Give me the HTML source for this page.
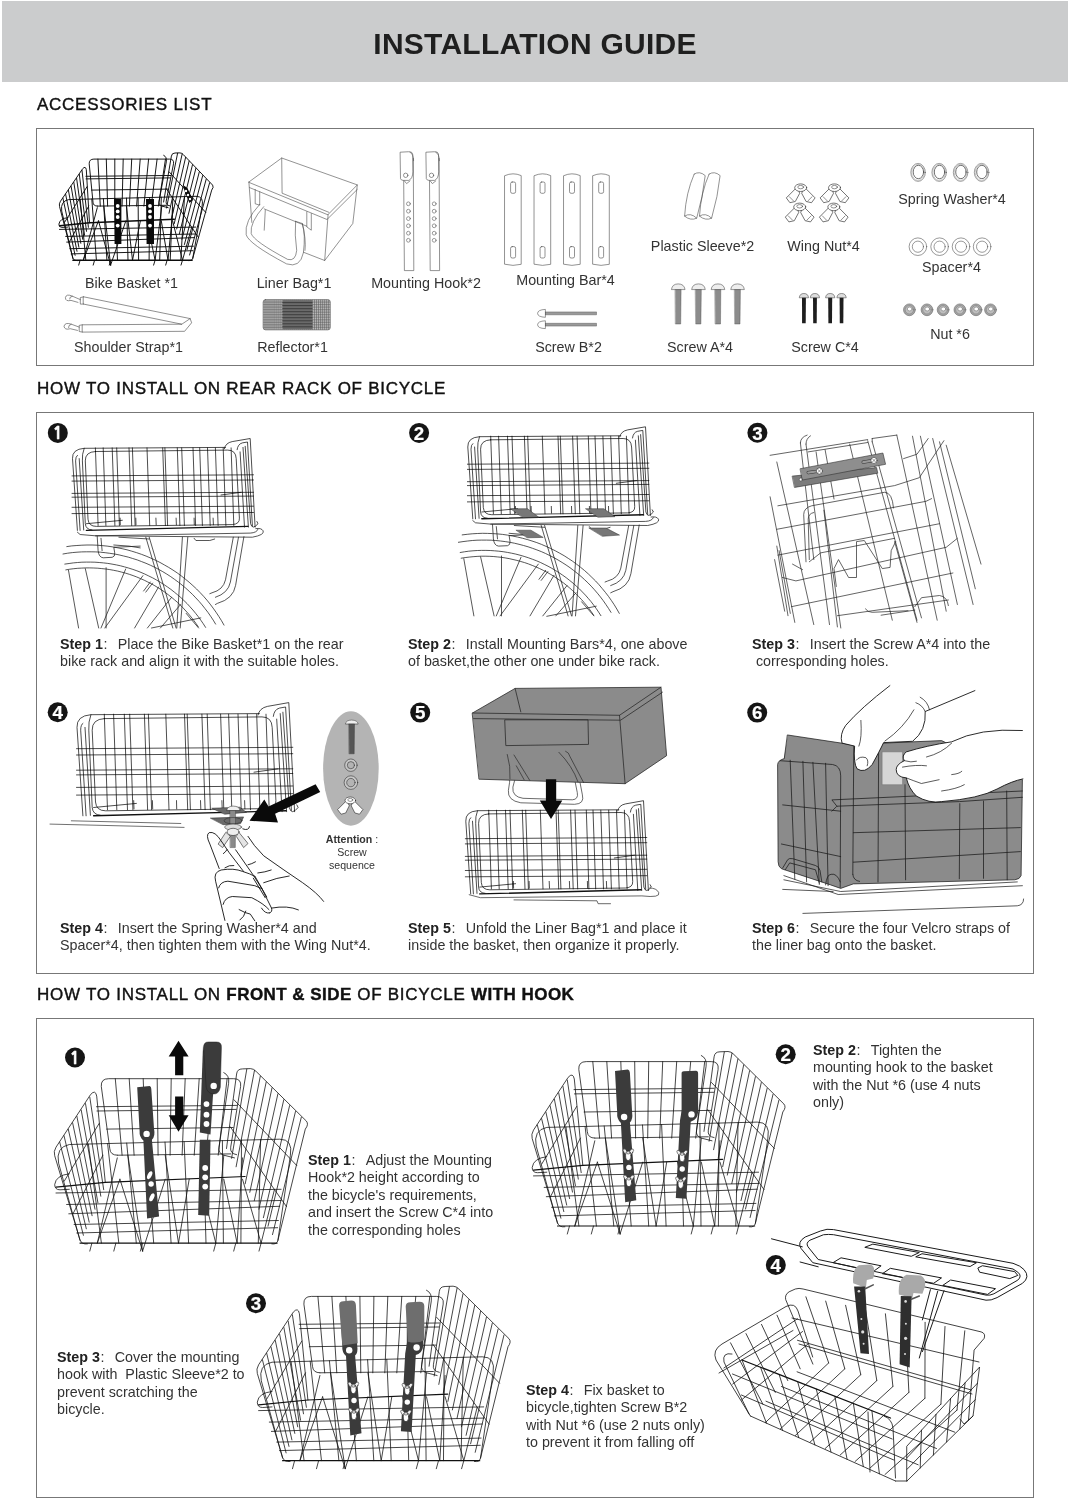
<!DOCTYPE html><html><head><meta charset="utf-8"><title>Installation Guide</title><style>
html,body{margin:0;padding:0;background:#fff;}
#pg{will-change:transform;position:relative;width:1070px;height:1500px;overflow:hidden;background:#fff;font-family:"Liberation Sans",Arial,sans-serif;color:#2e2e2e;}
#hdr{position:absolute;left:2px;top:1px;width:1066px;height:81px;background:#cbcccd;}
#ttl{position:absolute;left:0;top:24px;width:1070px;text-align:center;font-weight:bold;font-size:30px;line-height:40px;color:#1f1f1f;letter-spacing:0.25px;}
.h{position:absolute;left:37px;font-size:17px;line-height:20px;letter-spacing:0.74px;color:#111;white-space:nowrap;-webkit-text-stroke:0.4px #111;}
.h b{font-weight:bold;letter-spacing:0.45px;}
.bx{position:absolute;left:36px;width:996px;border:1.3px solid #777;box-sizing:content-box;}
.l{position:absolute;font-size:14.3px;line-height:18px;white-space:nowrap;color:#333;transform:translateX(-50%);}
.c{position:absolute;font-size:14.3px;line-height:17.4px;white-space:nowrap;color:#333;}
.c b{color:#222;}
.c i{font-style:normal;display:inline-block;width:14.8px;padding-left:0.6px;box-sizing:border-box;}
.att{position:absolute;font-size:10.6px;line-height:13.2px;text-align:center;color:#333;white-space:nowrap;}
svg{position:absolute;left:0;top:0;}
</style></head><body><div id="pg">
<div id="hdr"></div><div id="ttl">INSTALLATION GUIDE</div>
<div class="h" style="top:94.9px">ACCESSORIES LIST</div>
<div class="h" style="top:378.9px">HOW TO INSTALL ON REAR RACK OF BICYCLE</div>
<div class="h" style="top:984.9px">HOW TO INSTALL ON <b>FRONT &amp; SIDE</b> OF BICYCLE <b>WITH HOOK</b></div>
<div class="bx" style="top:128px;height:235.6px"></div>
<div class="bx" style="top:412px;height:559.5px"></div>
<div class="bx" style="top:1017.5px;height:478.5px"></div>
<div class="l" style="left:131.5px;top:274px">Bike Basket *1</div>
<div class="l" style="left:294px;top:274px">Liner Bag*1</div>
<div class="l" style="left:426px;top:274px">Mounting Hook*2</div>
<div class="l" style="left:565.5px;top:271px">Mounting Bar*4</div>
<div class="l" style="left:702.5px;top:237px">Plastic Sleeve*2</div>
<div class="l" style="left:823.5px;top:237px">Wing Nut*4</div>
<div class="l" style="left:952px;top:190px">Spring Washer*4</div>
<div class="l" style="left:951.5px;top:258px">Spacer*4</div>
<div class="l" style="left:128.5px;top:338px">Shoulder Strap*1</div>
<div class="l" style="left:292.5px;top:338px">Reflector*1</div>
<div class="l" style="left:568.5px;top:338px">Screw B*2</div>
<div class="l" style="left:700px;top:338px">Screw A*4</div>
<div class="l" style="left:825px;top:338px">Screw C*4</div>
<div class="l" style="left:950px;top:325px">Nut *6</div>
<div class="c" style="left:60px;top:636px;"><b>Step 1</b><i>:</i>Place the Bike Basket*1 on the rear<br>bike rack and align it with the suitable holes.</div>
<div class="c" style="left:408px;top:636px;"><b>Step 2</b><i>:</i>Install Mounting Bars*4, one above<br>of basket,the other one under bike rack.</div>
<div class="c" style="left:752px;top:636px;"><b>Step 3</b><i>:</i>Insert the Screw A*4 into the<br>&nbsp;corresponding holes.</div>
<div class="c" style="left:60px;top:920px;"><b>Step 4</b><i>:</i>Insert the Spring Washer*4 and<br>Spacer*4, then tighten them with the Wing Nut*4.</div>
<div class="c" style="left:408px;top:920px;"><b>Step 5</b><i>:</i>Unfold the Liner Bag*1 and place it<br>inside the basket, then organize it properly.</div>
<div class="c" style="left:752px;top:920px;"><b>Step 6</b><i>:</i>Secure the four Velcro straps of<br>the liner bag onto the basket.</div>
<div class="att" style="left:312px;top:832.5px;width:80px"><b>Attention</b> :<br>Screw<br>sequence</div>
<div class="c" style="left:308px;top:1152px;"><b>Step 1</b><i>:</i>Adjust the Mounting<br>Hook*2 height according to<br>the bicycle's requirements,<br>and insert the Screw C*4 into<br>the corresponding holes</div>
<div class="c" style="left:813px;top:1042px;"><b>Step 2</b><i>:</i>Tighten the<br>mounting hook to the basket<br>with the Nut *6 (use 4 nuts<br>only)</div>
<div class="c" style="left:57px;top:1349px;"><b>Step 3</b><i>:</i>Cover the mounting<br>hook with &nbsp;Plastic Sleeve*2 to<br>prevent scratching the<br>bicycle.</div>
<div class="c" style="left:526px;top:1382px;"><b>Step 4</b><i>:</i>Fix basket to<br>bicycle,tighten Screw B*2<br>with Nut *6 (use 2 nuts only)<br>to prevent it from falling off</div>
<svg width="1070" height="1500" viewBox="0 0 1070 1500" fill="none" stroke-linecap="round" stroke-linejoin="round">
<g id="10_acc"><path d="M97.4,206.1 Q93.2,206.1 93,202.2 L89.2,163.8 Q89.1,159.1 93.9,159.1 L169.5,159.1 Q174.3,159.1 173.5,163.8 L166.2,201.2 Q165.4,205.1 169.6,205.8 M97.9,159.1 L100.3,206.1 M106.3,159.1 L107.6,206.1 M114.8,159.1 L114.8,206.1 M123.2,159.1 L122.1,206.1 M131.7,159.1 L129.4,206.1 M140.2,159.1 L136.6,206.1 M148.6,159.1 L143.9,206.1 M157.1,159.1 L151.2,206.1 M165.5,159.1 L158.4,206.1 M85.9,176.3 L170.7,175.5 M86.1,178.9 L170.3,177.9 M91.5,190.1 L168.1,189.1 M97.4,206.1 L166.1,205.3 M72.9,258.5 L61.7,211 Q60.2,201.2 68.6,199.6 L196,196.3 Q204.1,196.3 202.1,206.1 L192.7,258.5 M80.2,199.3 L85.8,260.2 M91.8,199 L96.4,260.2 M103.4,198.7 L106.9,260.2 M114.9,198.4 L117.5,260.2 M126.5,198.1 L128,260.2 M138.1,197.8 L138.6,260.2 M149.7,197.5 L149.1,260.2 M161.3,197.2 L159.7,260.2 M172.9,196.9 L170.2,260.2 M184.5,196.6 L180.8,260.2 M89.5,222.8 L86.3,169.7 Q85.6,165.5 82.6,168.8 L60.5,201.2 Q58.8,203.8 59.5,206.4 L72.9,258.2 Q73.8,261.2 77.4,260.7 M62.9,198.1 L75.1,255.3 M65.6,194.1 L77,251.3 M68.4,190.2 L78.9,247.3 M71.1,186.2 L80.8,243.3 M73.8,182.3 L82.7,239.3 M76.6,178.3 L84.6,235.3 M79.3,174.4 L86.5,231.3 M82,170.4 L88.4,227.3 M64.7,222.1 L87.1,186.6 M69.3,242.1 L88.7,206.1 M163.6,202 L171.4,156.1 Q171.8,153 175,153 L179.9,152.9 Q181.8,152.9 183.4,154.7 L212.6,185.1 Q214.1,187.1 211.7,190.1 L192.7,258.5 Q192.1,261.2 188.9,260.7 M177.6,153.2 L166.5,208 M182.2,153.8 L169,213.3 M185.6,157.4 L171.6,218.5 M189.1,161.1 L174.2,223.7 M192.5,164.7 L176.7,228.9 M195.9,168.3 L179.3,234.1 M199.3,171.9 L181.9,239.3 M202.7,175.6 L184.4,244.5 M206.2,179.2 L187,249.7 M209.6,182.8 L189.6,255 M169.2,171.9 L205.8,212.5 M166.3,188.6 L198.6,237.7 M163.7,155.3 Q167.2,157 166.3,161.9 L159.1,201.2 Q158.3,204.8 161.8,206.1 L168.2,207.7 M59.5,229.4 L195.7,227.1 M66.7,242.1 L194.6,237.6 M65.7,236.4 L195.5,234 M71.2,253.9 L192.8,250.7 M69.7,248.7 L193.4,246.2 M83.3,260.2 L97.3,207.7 M83.3,260.2 L98.5,220.8 M110.6,265.1 L98.5,220.8 M110.6,265.1 L103.8,206.1 M110.6,265.1 L125.9,220.8 M132.5,260.2 L126.4,206.1 M132.5,260.2 L140.4,220.8 M155.1,260.2 L146.8,220.8 M155.1,260.2 L161.8,206.1 M168,260.2 L161.3,220.8 M168,260.2 L173.1,207.7 M182.5,260.2 L172.6,220.8 M182.5,260.2 L191.7,227.4 M80.1,260.2 L78.7,265.1 M94.6,260.2 L93.2,265.1 M110.7,260.2 L109.3,265.1 M155.1,260.2 L153.6,265.1 M167.1,260.2 L165.7,265.1 M182.5,260.2 L181,265.1" stroke="#0c0c0c" stroke-width="0.95"/><path d="M72.9,260.2 L192.1,260.2 M89.5,222.8 L174.3,219.2 M59.6,225.8 L89.5,222.8" stroke="#0c0c0c" stroke-width="1.5"/><path d="M68,217.6 Q59.9,218.4 58.9,224.1 Q58.7,227.4 62,227.4 L67.6,227.1" stroke="#0c0c0c" stroke-width="0.95"/><path d="M114,199 L121.4,199 L121.4,244 L114.6,244Z" fill="#0a0a0a"/><circle cx="117.7" cy="206" r="1.9" fill="#fff"/><circle cx="117.7" cy="211.4" r="1.9" fill="#fff"/><circle cx="117.7" cy="217" r="1.9" fill="#fff"/><circle cx="117.7" cy="225.6" r="1.9" fill="#fff"/><path d="M146,199 L154,199 L154,244 L146.6,244Z" fill="#0a0a0a"/><circle cx="150" cy="206" r="1.9" fill="#fff"/><circle cx="150" cy="211.4" r="1.9" fill="#fff"/><circle cx="150" cy="217" r="1.9" fill="#fff"/><circle cx="150" cy="225.6" r="1.9" fill="#fff"/><path d="M183,185 L187.4,188 L193,200 L189.4,203 L185,192.4Z" fill="#0a0a0a"/><circle cx="186" cy="191" r="1.2" fill="#fff"/><circle cx="188" cy="195" r="1.2" fill="#fff"/><circle cx="190" cy="199" r="1.2" fill="#fff"/><path d="M248.9,182 L281.7,158 L357.3,184.9 L328.1,214.5Z M249.6,187.6 L327,219.5 L357.3,189.4 M248.9,182 L251.8,222.4 M328.1,214.5 L324.7,260.5 L352.8,223.5 L357.3,184.9 M324.7,260.5 L303.4,252.2 M281.7,158 L282.1,193.2 L328.8,212.3 M255.2,189.4 L255.2,203.8 L259.7,205.1 L259.7,191.7 M306.8,211.8 L306.8,226.9 L311.3,230.2 L311.3,213.6 M264.2,208.9 L306.8,226.2 M265.3,210.1 L264.2,230.2 M259.7,204.4 Q244,221.3 246.2,234.7 Q248.5,243.7 286.6,263.9 Q300.1,268.4 303.4,252.7 Q305.7,234.7 302.3,223.5 L295.6,221.3 M263.7,206.7 Q249.6,222.4 251.2,233.6 Q254.1,241.5 287.7,259.4 Q295.6,261.6 296.7,250.4 Q294.4,234.7 295.6,221.3 M302.3,223.5 Q306.3,239.2 305,250.4" stroke="#4a4a4a" stroke-width="0.6"/><circle cx="405.7" cy="175.3" r="2.2" stroke="#4a4a4a" stroke-width="0.6" fill="none"/><circle cx="408.4" cy="203.8" r="1.9" stroke="#4a4a4a" stroke-width="0.55" fill="none"/><circle cx="408.4" cy="211.2" r="1.9" stroke="#4a4a4a" stroke-width="0.55" fill="none"/><circle cx="408.4" cy="218.6" r="1.9" stroke="#4a4a4a" stroke-width="0.55" fill="none"/><circle cx="408.4" cy="225.8" r="1.9" stroke="#4a4a4a" stroke-width="0.55" fill="none"/><circle cx="408.4" cy="233.2" r="1.9" stroke="#4a4a4a" stroke-width="0.55" fill="none"/><circle cx="408.4" cy="240.3" r="1.9" stroke="#4a4a4a" stroke-width="0.55" fill="none"/><circle cx="431.5" cy="175.3" r="2.2" stroke="#4a4a4a" stroke-width="0.6" fill="none"/><circle cx="434.2" cy="203.8" r="1.9" stroke="#4a4a4a" stroke-width="0.55" fill="none"/><circle cx="434.2" cy="211.2" r="1.9" stroke="#4a4a4a" stroke-width="0.55" fill="none"/><circle cx="434.2" cy="218.6" r="1.9" stroke="#4a4a4a" stroke-width="0.55" fill="none"/><circle cx="434.2" cy="225.8" r="1.9" stroke="#4a4a4a" stroke-width="0.55" fill="none"/><circle cx="434.2" cy="233.2" r="1.9" stroke="#4a4a4a" stroke-width="0.55" fill="none"/><circle cx="434.2" cy="240.3" r="1.9" stroke="#4a4a4a" stroke-width="0.55" fill="none"/><path d="M403.7,180.9 L404.4,270.6 L413.8,270.6 L413.3,158.5 M400.1,152.6 L400.5,178.6 Q401,180.4 403.2,180.4 L408.8,180.4 Q412.7,178.6 412.9,171.9 L412.7,154 Q412.2,151.3 408.8,151.7 Z M410,152.2 Q413.6,154 413.6,160.7 M404.4,180.9 L406.6,183.6 L410,180.9 M429.5,180.9 L430.2,270.6 L439.6,270.6 L439.1,158.5 M425.9,152.6 L426.3,178.6 Q426.8,180.4 429,180.4 L434.6,180.4 Q438.5,178.6 438.7,171.9 L438.5,154 Q438,151.3 434.6,151.7 Z M435.8,152.2 Q439.4,154 439.4,160.7 M430.2,180.9 L432.4,183.6 L435.8,180.9" stroke="#4a4a4a" stroke-width="0.6"/><path d="M504.9,175.6 Q513.1,172 521.2,175.6 L521.2,264.3 Q513.1,266.5 504.9,264.3 Z M512.2,182 H514 Q515.6,182 515.6,183.6 V191.7 Q515.6,193.3 514,193.3 H512.2 Q510.6,193.3 510.6,191.7 V183.6 Q510.6,182 512.2,182Z M512.2,246.6 H514 Q515.6,246.6 515.6,248.2 V256.4 Q515.6,258 514,258 H512.2 Q510.6,258 510.6,256.4 V248.2 Q510.6,246.6 512.2,246.6Z M534.4,175.6 Q542.6,172 550.7,175.6 L550.7,264.3 Q542.6,266.5 534.4,264.3 Z M541.7,182 H543.4 Q545,182 545,183.6 V191.7 Q545,193.3 543.4,193.3 H541.7 Q540.1,193.3 540.1,191.7 V183.6 Q540.1,182 541.7,182Z M541.7,246.6 H543.4 Q545,246.6 545,248.2 V256.4 Q545,258 543.4,258 H541.7 Q540.1,258 540.1,256.4 V248.2 Q540.1,246.6 541.7,246.6Z M563.9,175.6 Q572,172 580.2,175.6 L580.2,264.3 Q572,266.5 563.9,264.3 Z M571.1,182 H572.9 Q574.5,182 574.5,183.6 V191.7 Q574.5,193.3 572.9,193.3 H571.1 Q569.5,193.3 569.5,191.7 V183.6 Q569.5,182 571.1,182Z M571.1,246.6 H572.9 Q574.5,246.6 574.5,248.2 V256.4 Q574.5,258 572.9,258 H571.1 Q569.5,258 569.5,256.4 V248.2 Q569.5,246.6 571.1,246.6Z M593,175.6 Q601.2,172 609.3,175.6 L609.3,264.3 Q601.2,266.5 593,264.3 Z M600.3,182 H602 Q603.6,182 603.6,183.6 V191.7 Q603.6,193.3 602,193.3 H600.3 Q598.7,193.3 598.7,191.7 V183.6 Q598.7,182 600.3,182Z M600.3,246.6 H602 Q603.6,246.6 603.6,248.2 V256.4 Q603.6,258 602,258 H600.3 Q598.7,258 598.7,256.4 V248.2 Q598.7,246.6 600.3,246.6Z M694.2,174.1 Q699.5,170.6 705.2,175.6 Q703.1,196.2 696.7,218.2 Q690.6,221 684.6,216.1 Q686,192.6 694.2,174.1 M684.6,216.1 Q690.6,212.1 696.7,218.2 M709.1,174.1 Q714.4,170.6 720.1,175.6 Q718,196.2 711.6,218.2 Q705.6,221 699.5,216.1 Q700.9,192.6 709.1,174.1 M699.5,216.1 Q705.6,212.1 711.6,218.2" stroke="#4a4a4a" stroke-width="0.6"/><path d="M797.1,187.1 L786.3,197.9 L789.9,202.7 L795.3,201.5 L799.5,193.7Z" stroke="#3a3a3a" stroke-width="0.7" fill="#fff"/><path d="M804.3,187.1 L815.1,197.9 L811.5,202.7 L806.1,201.5 L801.9,193.7Z" stroke="#3a3a3a" stroke-width="0.7" fill="#fff"/><path d="M789.3,196.7 L793.5,200.9 M812.1,196.7 L807.9,200.9" stroke="#3a3a3a" stroke-width="0.5599999999999999"/><ellipse cx="800.7" cy="187.7" rx="6" ry="3.8" stroke="#3a3a3a" stroke-width="0.7" fill="#fff"/><ellipse cx="800.7" cy="187.1" rx="2.9" ry="1.7" stroke="#3a3a3a" stroke-width="0.5599999999999999" fill="#fff"/><path d="M830.9,187.1 L820.1,197.9 L823.7,202.7 L829.1,201.5 L833.3,193.7Z" stroke="#3a3a3a" stroke-width="0.7" fill="#fff"/><path d="M838.1,187.1 L848.9,197.9 L845.3,202.7 L839.9,201.5 L835.7,193.7Z" stroke="#3a3a3a" stroke-width="0.7" fill="#fff"/><path d="M823.1,196.7 L827.3,200.9 M845.9,196.7 L841.7,200.9" stroke="#3a3a3a" stroke-width="0.5599999999999999"/><ellipse cx="834.5" cy="187.7" rx="6" ry="3.8" stroke="#3a3a3a" stroke-width="0.7" fill="#fff"/><ellipse cx="834.5" cy="187.1" rx="2.9" ry="1.7" stroke="#3a3a3a" stroke-width="0.5599999999999999" fill="#fff"/><path d="M796.1,206.3 L785.3,217.1 L788.9,221.9 L794.3,220.7 L798.5,212.9Z" stroke="#3a3a3a" stroke-width="0.7" fill="#fff"/><path d="M803.3,206.3 L814.1,217.1 L810.5,221.9 L805.1,220.7 L800.9,212.9Z" stroke="#3a3a3a" stroke-width="0.7" fill="#fff"/><path d="M788.3,215.9 L792.5,220.1 M811.1,215.9 L806.9,220.1" stroke="#3a3a3a" stroke-width="0.5599999999999999"/><ellipse cx="799.7" cy="206.9" rx="6" ry="3.8" stroke="#3a3a3a" stroke-width="0.7" fill="#fff"/><ellipse cx="799.7" cy="206.3" rx="2.9" ry="1.7" stroke="#3a3a3a" stroke-width="0.5599999999999999" fill="#fff"/><path d="M830.1,206.3 L819.4,217.1 L823,221.9 L828.4,220.7 L832.5,212.9Z" stroke="#3a3a3a" stroke-width="0.7" fill="#fff"/><path d="M837.4,206.3 L848.1,217.1 L844.5,221.9 L839.1,220.7 L835,212.9Z" stroke="#3a3a3a" stroke-width="0.7" fill="#fff"/><path d="M822.4,215.9 L826.5,220.1 M845.1,215.9 L841,220.1" stroke="#3a3a3a" stroke-width="0.5599999999999999"/><ellipse cx="833.8" cy="206.9" rx="6" ry="3.8" stroke="#3a3a3a" stroke-width="0.7" fill="#fff"/><ellipse cx="833.8" cy="206.3" rx="2.9" ry="1.7" stroke="#3a3a3a" stroke-width="0.5599999999999999" fill="#fff"/><path d="M545,311.9 L596.5,311.9 L596.5,314.8 L545,314.8Z" stroke="#444" stroke-width="0.4" fill="#9a9a9a"/><path d="M545,309.4 Q537.6,309.8 537.6,313.4 Q537.6,316.9 545,317.3 Z" stroke="#444" stroke-width="0.55" fill="#fff"/><path d="M545,323.3 L596.5,323.3 L596.5,326.1 L545,326.1Z" stroke="#444" stroke-width="0.4" fill="#9a9a9a"/><path d="M545,320.8 Q537.6,321.2 537.6,324.7 Q537.6,328.3 545,328.6 Z" stroke="#444" stroke-width="0.55" fill="#fff"/><path d="M675.4,289.2 L681.1,289.2 L680.7,324 L675.7,324Z" stroke="#444" stroke-width="0.4" fill="#8c8c8c"/><path d="M671.5,289.2 Q672.2,283.9 678.2,283.9 Q684.2,283.9 685,289.2 Z" stroke="#444" stroke-width="0.55" fill="#eee"/><path d="M695.6,289.2 L701.3,289.2 L700.9,324 L696,324Z" stroke="#444" stroke-width="0.4" fill="#8c8c8c"/><path d="M691.7,289.2 Q692.4,283.9 698.5,283.9 Q704.5,283.9 705.2,289.2 Z" stroke="#444" stroke-width="0.55" fill="#eee"/><path d="M715.1,289.2 L720.8,289.2 L720.5,324 L715.5,324Z" stroke="#444" stroke-width="0.4" fill="#8c8c8c"/><path d="M711.2,289.2 Q711.9,283.9 718,283.9 Q724,283.9 724.7,289.2 Z" stroke="#444" stroke-width="0.55" fill="#eee"/><path d="M734.7,289.2 L740.4,289.2 L740,324 L735,324Z" stroke="#444" stroke-width="0.4" fill="#8c8c8c"/><path d="M730.8,289.2 Q731.5,283.9 737.5,283.9 Q743.6,283.9 744.3,289.2 Z" stroke="#444" stroke-width="0.55" fill="#eee"/><path d="M802,297.4 L805.9,297.4 L805.7,323.3 L802.1,323.3Z" fill="#1e1e1e"/><path d="M799.3,297.4 Q799.7,293.5 803.9,293.5 Q808.2,293.5 808.5,297.4 Z" stroke="#333" stroke-width="0.5" fill="#ddd"/><path d="M813,297.4 L816.9,297.4 L816.7,323.3 L813.2,323.3Z" fill="#1e1e1e"/><path d="M810.3,297.4 Q810.7,293.5 814.9,293.5 Q819.2,293.5 819.5,297.4 Z" stroke="#333" stroke-width="0.5" fill="#ddd"/><path d="M828.2,297.4 L832.2,297.4 L832,323.3 L828.4,323.3Z" fill="#1e1e1e"/><path d="M825.6,297.4 Q825.9,293.5 830.2,293.5 Q834.5,293.5 834.8,297.4 Z" stroke="#333" stroke-width="0.5" fill="#ddd"/><path d="M839.6,297.4 L843.5,297.4 L843.3,323.3 L839.8,323.3Z" fill="#1e1e1e"/><path d="M836.9,297.4 Q837.3,293.5 841.6,293.5 Q845.8,293.5 846.2,297.4 Z" stroke="#333" stroke-width="0.5" fill="#ddd"/><ellipse cx="918.1" cy="172.4" rx="7.3" ry="9" stroke="#555" stroke-width="0.55" fill="none"/><ellipse cx="918.4" cy="172" rx="5.2" ry="6.7" stroke="#333" stroke-width="0.7" fill="none"/><ellipse cx="918.1" cy="172.4" rx="6.4" ry="8" stroke="#777" stroke-width="0.4" fill="none"/><ellipse cx="939.2" cy="172.4" rx="7.3" ry="9" stroke="#555" stroke-width="0.55" fill="none"/><ellipse cx="939.5" cy="172" rx="5.2" ry="6.7" stroke="#333" stroke-width="0.7" fill="none"/><ellipse cx="939.2" cy="172.4" rx="6.4" ry="8" stroke="#777" stroke-width="0.4" fill="none"/><ellipse cx="960.6" cy="172.4" rx="7.3" ry="9" stroke="#555" stroke-width="0.55" fill="none"/><ellipse cx="960.9" cy="172" rx="5.2" ry="6.7" stroke="#333" stroke-width="0.7" fill="none"/><ellipse cx="960.6" cy="172.4" rx="6.4" ry="8" stroke="#777" stroke-width="0.4" fill="none"/><ellipse cx="981.6" cy="172.4" rx="7.3" ry="9" stroke="#555" stroke-width="0.55" fill="none"/><ellipse cx="981.9" cy="172" rx="5.2" ry="6.7" stroke="#333" stroke-width="0.7" fill="none"/><ellipse cx="981.6" cy="172.4" rx="6.4" ry="8" stroke="#777" stroke-width="0.4" fill="none"/><circle cx="917.9" cy="246.7" r="8.8" stroke="#555" stroke-width="0.6" fill="none"/><circle cx="917.9" cy="246.7" r="5.6" stroke="#555" stroke-width="0.6" fill="none"/><circle cx="939.6" cy="246.7" r="8.8" stroke="#555" stroke-width="0.6" fill="none"/><circle cx="939.6" cy="246.7" r="5.6" stroke="#555" stroke-width="0.6" fill="none"/><circle cx="961" cy="246.7" r="8.8" stroke="#555" stroke-width="0.6" fill="none"/><circle cx="961" cy="246.7" r="5.6" stroke="#555" stroke-width="0.6" fill="none"/><circle cx="982.1" cy="246.7" r="8.8" stroke="#555" stroke-width="0.6" fill="none"/><circle cx="982.1" cy="246.7" r="5.6" stroke="#555" stroke-width="0.6" fill="none"/><circle cx="909.4" cy="309.8" r="5.9" stroke="#666" stroke-width="0.6" fill="#a5a5a5"/><circle cx="909.4" cy="309.8" r="4.2" stroke="#777" stroke-width="0.5" fill="#bdbdbd"/><ellipse cx="909.7" cy="309" rx="2.4" ry="1.9" stroke="#666" stroke-width="0.5" fill="#fff"/><circle cx="927" cy="309.8" r="5.9" stroke="#666" stroke-width="0.6" fill="#a5a5a5"/><circle cx="927" cy="309.8" r="4.2" stroke="#777" stroke-width="0.5" fill="#bdbdbd"/><ellipse cx="927.3" cy="309" rx="2.4" ry="1.9" stroke="#666" stroke-width="0.5" fill="#fff"/><circle cx="943.1" cy="309.8" r="5.9" stroke="#666" stroke-width="0.6" fill="#a5a5a5"/><circle cx="943.1" cy="309.8" r="4.2" stroke="#777" stroke-width="0.5" fill="#bdbdbd"/><ellipse cx="943.4" cy="309" rx="2.4" ry="1.9" stroke="#666" stroke-width="0.5" fill="#fff"/><circle cx="959.9" cy="309.8" r="5.9" stroke="#666" stroke-width="0.6" fill="#a5a5a5"/><circle cx="959.9" cy="309.8" r="4.2" stroke="#777" stroke-width="0.5" fill="#bdbdbd"/><ellipse cx="960.2" cy="309" rx="2.4" ry="1.9" stroke="#666" stroke-width="0.5" fill="#fff"/><circle cx="976" cy="309.8" r="5.9" stroke="#666" stroke-width="0.6" fill="#a5a5a5"/><circle cx="976" cy="309.8" r="4.2" stroke="#777" stroke-width="0.5" fill="#bdbdbd"/><ellipse cx="976.3" cy="309" rx="2.4" ry="1.9" stroke="#666" stroke-width="0.5" fill="#fff"/><circle cx="990.5" cy="309.8" r="5.9" stroke="#666" stroke-width="0.6" fill="#a5a5a5"/><circle cx="990.5" cy="309.8" r="4.2" stroke="#777" stroke-width="0.5" fill="#bdbdbd"/><ellipse cx="990.8" cy="309" rx="2.4" ry="1.9" stroke="#666" stroke-width="0.5" fill="#fff"/><path d="M83.6,296.8 L190.2,318.6 L191.6,322.8 L184.6,331.3 L82.2,332.1 L82.2,324.8 L181.8,324.2 L83.6,304.1Z M181.8,324.2 L190.2,318.6 M83.6,296.8 L80.3,297.6 L80.3,304.1 L83.6,304.1 M82.2,324.8 L79.2,325.4 L79.2,331.5 L82.2,332.1 M80.3,299.6 L72.4,296.2 Q66.3,293.4 65.4,297.6 Q65.4,301.8 71,300.4 L78,302.4 M72.4,296.2 Q69.1,296.8 69.6,299 M79.2,327.1 L71.3,324.2 Q65.1,322 64,326.2 Q64.6,330.4 70.2,328.7 L77.5,330.4 M71.3,324.2 Q67.9,325.1 68.5,327.6" stroke="#444" stroke-width="0.6"/><path d="M265.6,299.6 H327.8 Q330.3,299.6 330.3,302.1 V327.4 Q330.3,329.9 327.8,329.9 H265.6 Q263.1,329.9 263.1,327.4 V302.1 Q263.1,299.6 265.6,299.6Z" stroke="#555" stroke-width="0.6" fill="#b9b9b9"/><path d="M265,300.1 L265,329.4 M267,300.1 L267,329.4 M269,300.1 L269,329.4 M271,300.1 L271,329.4 M273,300.1 L273,329.4 M274.9,300.1 L274.9,329.4 M276.9,300.1 L276.9,329.4 M278.9,300.1 L278.9,329.4 M280.9,300.1 L280.9,329.4 M282.9,300.1 L282.9,329.4 M284.8,300.1 L284.8,329.4 M286.8,300.1 L286.8,329.4 M288.8,300.1 L288.8,329.4 M290.8,300.1 L290.8,329.4 M292.7,300.1 L292.7,329.4 M294.7,300.1 L294.7,329.4 M296.7,300.1 L296.7,329.4 M298.7,300.1 L298.7,329.4 M300.7,300.1 L300.7,329.4 M302.6,300.1 L302.6,329.4 M304.6,300.1 L304.6,329.4 M306.6,300.1 L306.6,329.4 M308.6,300.1 L308.6,329.4 M310.6,300.1 L310.6,329.4 M312.5,300.1 L312.5,329.4 M314.5,300.1 L314.5,329.4 M316.5,300.1 L316.5,329.4 M318.5,300.1 L318.5,329.4 M320.5,300.1 L320.5,329.4 M322.4,300.1 L322.4,329.4 M324.4,300.1 L324.4,329.4 M326.4,300.1 L326.4,329.4 M328.4,300.1 L328.4,329.4 M263.6,302.1 L329.8,302.1 M263.6,304.6 L329.8,304.6 M263.6,307.1 L329.8,307.1 M263.6,309.7 L329.8,309.7 M263.6,312.2 L329.8,312.2 M263.6,314.7 L329.8,314.7 M263.6,317.2 L329.8,317.2 M263.6,319.8 L329.8,319.8 M263.6,322.3 L329.8,322.3 M263.6,324.8 L329.8,324.8 M263.6,327.3 L329.8,327.3" stroke="#555" stroke-width="0.5"/><path d="M282.7,300.1 L312.1,300.1 L312.1,329.4 L282.7,329.4Z" fill="#6a6a6a"/><path d="M282.7,302.6 L312.1,302.6 M282.7,305.6 L312.1,305.6 M282.7,308.7 L312.1,308.7 M282.7,311.7 L312.1,311.7 M282.7,314.7 L312.1,314.7 M282.7,317.7 L312.1,317.7 M282.7,320.8 L312.1,320.8 M282.7,323.8 L312.1,323.8 M282.7,326.8 L312.1,326.8" stroke="#2a2a2a" stroke-width="0.7"/></g>
<g id="20_rear"><path d="M77.4,532.2 L80.1,534.5 L95.4,535.8 L252.4,537.2 Q264.7,534.9 263.2,530.9 Q261.4,527.7 255.8,528.6 M95.4,535.8 L250.2,533.1 Q256.9,532.7 258,529.3 M118.9,537.2 L149.2,539 M97.2,536.3 L98.1,550.6 Q98.7,557.3 103.2,557.8 L112.2,557.3 Q115.1,556.9 114.7,552.9 L113.8,547.3 L140.2,546.1 M101,538.3 L102.1,550.6 M113.8,545 L129,546.1 L140.2,547.9 M194.1,538.3 L195.9,540.5 L209.8,540.5 L214.7,539 M145.8,537.2 L172.8,628 M149.2,537.2 L176.1,628 M182.4,537.2 L176.8,628 M187.8,537.2 L180.2,628 M233.3,537.2 L225.5,579.8 Q223.2,589.9 212,592.8 L209.8,593.7 M238.5,537.2 L230.4,582 Q228.2,593.2 215.4,597.3 M243.9,536.7 L235.6,585.4 Q233.3,598.8 217.6,603.3 L215.4,604.5 M143.6,591 L150.3,582 M145.8,592.1 L152.6,583.1 M151.5,628 L200.8,617.9" stroke="#1f1f1f" stroke-width="0.75"/><path d="M66.8,546.6 L71.8,545.9 L76.9,545.5 L81.9,545.2 L87,545 L92,545 L97.1,545.2 L102.1,545.6 L107.1,546.1 L112.1,546.8 L117.1,547.7 L122.1,548.7 L127,549.8 L131.8,551.2 L136.7,552.7 L141.4,554.3 L146.1,556.1 L150.8,558.1 L155.4,560.2 L159.9,562.4 L164.3,564.9 L168.7,567.4 L173,570.1 L177.2,572.9 L181.3,575.9 L185.2,579 L189.1,582.2 L192.9,585.6 L196.6,589 L200.1,592.6 L203.6,596.3 L206.9,600.1 L210.1,604.1 L213.1,608.1 L216,612.2 L218.8,616.4 L221.5,620.7 L224,625.1 M63,554 L67.7,553.2 L72.3,552.6 L77,552.2 L81.7,551.9 L86.4,551.8 L91.1,551.8 L95.8,551.9 L100.5,552.2 L105.2,552.7 L109.8,553.3 L114.5,554 L119.1,554.9 L123.7,556 L128.2,557.1 L132.7,558.5 L137.2,559.9 L141.6,561.6 L146,563.3 L150.3,565.2 L154.5,567.2 L158.7,569.4 L162.8,571.7 L166.8,574.1 L170.8,576.7 L174.6,579.4 L178.4,582.2 L182.1,585.1 L185.7,588.1 L189.2,591.3 L192.6,594.5 L195.8,597.9 L199,601.3 L202.1,604.9 L205,608.6 L207.9,612.3 L210.6,616.2 L213.2,620.1 L215.6,624.1 M64.8,564.1 L69.1,563.5 L73.3,562.9 L77.6,562.5 L81.9,562.2 L86.3,562.1 L90.6,562.1 L94.9,562.2 L99.2,562.5 L103.5,562.9 L107.8,563.4 L112,564.1 L116.3,564.9 L120.5,565.8 L124.6,566.9 L128.8,568.1 L132.9,569.4 L136.9,570.8 L141,572.4 L144.9,574.1 L148.8,576 L152.7,577.9 L156.5,580 L160.2,582.2 L163.8,584.5 L167.4,586.9 L170.9,589.4 L174.3,592.1 L177.6,594.8 L180.9,597.6 L184,600.6 L187.1,603.6 L190,606.8 L192.9,610 L195.6,613.3 L198.3,616.7 L200.8,620.2 L203.3,623.8 L205.6,627.4 M65.8,569.9 L69.8,569.2 L73.8,568.7 L77.8,568.3 L81.8,568.1 L85.8,567.9 L89.8,567.9 L93.8,568 L97.8,568.2 L101.8,568.6 L105.8,569 L109.8,569.6 L113.7,570.3 L117.7,571.1 L121.6,572.1 L125.4,573.1 L129.3,574.3 L133.1,575.6 L136.8,577 L140.5,578.6 L144.2,580.2 L147.8,582 L151.4,583.8 L154.9,585.8 L158.3,587.9 L161.7,590 L165,592.3 L168.2,594.7 L171.4,597.2 L174.5,599.8 L177.5,602.4 L180.4,605.2 L183.2,608 L185.9,611 L188.6,614 L191.2,617.1 L193.6,620.2 L196,623.5 L198.3,626.8" stroke="#1f1f1f" stroke-width="0.75"/><path d="M68.5,570.4 L78.6,628 M85.3,568.6 L98.7,628 M106.1,567.7 L106.1,628 M125.7,569 L101,628 M142.9,575.7 L104.8,628 M158.6,587 L134.6,628 M171.6,597.3 L147.4,628 M180.6,604.5 L160.4,628 M198.6,628 L186.2,613.4" stroke="#1f1f1f" stroke-width="0.75"/><path d="M77.4,530.4 L72.5,458.6 Q72,449.2 84.2,448.3 L225.5,447.4 M80.1,530.4 L75.6,460.9 Q75.6,456.4 77.4,455.3 M83.7,530 L79.2,458.6 M95.4,451.5 L227.7,450.1 Q235.8,450.1 236.2,458.6 L239.4,518.1 Q239.8,524.1 232.2,524.6 L96.5,526.4 Q88.6,526.4 88,519.2 L85.3,460.9 Q85.1,451.9 95.4,451.5 Z M84.2,448.3 Q81.9,454.2 82.4,460.9 L85.3,523.7 Q85.7,529.5 92,530 M224.4,448.6 Q225.5,442.9 232.2,441.6 L250.2,438.5 L255.1,527.1 M237.1,449.7 Q237.8,444.1 242.3,442.9 L247.5,442 L252.4,525.9 M240.1,451.9 L244.5,527.1 M243,447.4 L248.4,527.1 M245.2,446.3 L250.6,523.7 Q252.4,530.4 258,523.7 L256.9,521.5 M95.4,447.9 L98.1,525.5 M103.2,447.9 L105.9,525.5 M112.2,447.9 L114.9,525.5 M116.7,447.9 L119.4,525.5 M129,447.9 L131.7,525.5 M132.4,447.9 L135.1,525.5 M147,447.9 L149.7,525.5 M162.7,447.9 L165.4,525.5 M164.9,447.9 L167.6,525.5 M177.3,447.9 L179.9,525.5 M181.7,447.9 L184.4,525.5 M193,447.9 L195.6,525.5 M199.7,447.9 L202.4,525.5 M207.5,447.9 L210.2,525.5 M215.4,447.9 L218.1,525.5 M223.2,447.9 L225.9,525.5 M231.1,447.9 L233.8,525.5 M72,475.9 L253.5,474.8 M72,481.1 L253.5,480 M72,493.4 L253.5,492.3 M72,497.2 L253.5,496.1 M72,507.3 L253.5,506.2 M72,513.6 L253.5,512.5 M120.1,518.1 L120.3,524.8 M135.8,518.1 L136,524.8 M155.9,518.1 L156.2,524.8 M176.1,518.1 L176.4,524.8 M194.1,518.1 L194.3,524.8 M213.1,518.1 L213.4,524.8 M86.4,523.7 L122.3,520.3 M221,495 L241.2,492.3" stroke="#000" stroke-width="0.7"/><path d="M86.4,530.4 L247.9,526.4" stroke="#111" stroke-width="1.4"/><path d="M472.8,520.6 L475.5,522.8 L490.7,524.1 L647.7,525.5 Q660.1,523.2 658.5,519.2 Q656.7,516.1 651.1,517 M490.7,524.1 L645.5,521.4 Q652.2,521 653.4,517.6 M514.3,525.5 L544.6,527.3 M492.5,524.6 L493.4,538.9 Q494.1,545.7 498.6,546.1 L507.5,545.7 Q510.5,545.2 510,541.2 L509.1,535.6 L535.6,534.5 M496.3,526.6 L497.5,538.9 M509.1,533.3 L524.4,534.5 L535.6,536.3 M589.4,526.6 L591.2,528.8 L605.1,528.8 L610.1,527.3 M541.2,525.5 L568.1,615.9 M544.6,525.5 L571.5,615.9 M577.8,525.5 L572.1,615.9 M583.1,525.5 L575.5,615.9 M628.7,525.5 L620.8,568.1 Q618.6,578.2 607.4,581.1 L605.1,582 M633.8,525.5 L625.8,570.3 Q623.5,581.6 610.7,585.6 M639.2,525 L630.9,573.7 Q628.7,587.2 613,591.7 L610.7,592.8 M539,579.3 L545.7,570.3 M541.2,580.4 L547.9,571.5 M546.8,616.3 L596.2,606.2" stroke="#1f1f1f" stroke-width="0.75"/><path d="M462.2,534.9 L467.2,534.3 L472.2,533.8 L477.3,533.5 L482.3,533.3 L487.4,533.4 L492.4,533.6 L497.4,533.9 L502.5,534.4 L507.5,535.1 L512.4,536 L517.4,537 L522.3,538.2 L527.2,539.5 L532,541 L536.8,542.6 L541.5,544.4 L546.1,546.4 L550.7,548.5 L555.3,550.8 L559.7,553.2 L564.1,555.7 L568.3,558.4 L572.5,561.2 L576.6,564.2 L580.6,567.3 L584.5,570.5 L588.3,573.9 L591.9,577.4 L595.5,580.9 L598.9,584.6 L602.2,588.5 L605.4,592.4 L608.5,596.4 L611.4,600.5 L614.2,604.7 L616.8,609 L619.3,613.4 M458.4,542.3 L463,541.6 L467.7,541 L472.3,540.5 L477,540.2 L481.7,540.1 L486.4,540.1 L491.1,540.2 L495.8,540.5 L500.5,541 L505.2,541.6 L509.8,542.3 L514.4,543.2 L519,544.3 L523.6,545.5 L528.1,546.8 L532.5,548.3 L536.9,549.9 L541.3,551.6 L545.6,553.5 L549.9,555.6 L554,557.7 L558.1,560 L562.2,562.5 L566.1,565 L570,567.7 L573.7,570.5 L577.4,573.4 L581,576.4 L584.5,579.6 L587.9,582.8 L591.2,586.2 L594.4,589.7 L597.4,593.2 L600.4,596.9 L603.2,600.6 L605.9,604.5 L608.5,608.4 L611,612.4 M460.2,552.5 L464.4,551.8 L468.7,551.2 L473,550.8 L477.3,550.5 L481.6,550.4 L485.9,550.4 L490.2,550.5 L494.5,550.8 L498.8,551.2 L503.1,551.7 L507.4,552.4 L511.6,553.2 L515.8,554.1 L520,555.2 L524.1,556.4 L528.2,557.7 L532.3,559.2 L536.3,560.7 L540.3,562.4 L544.2,564.3 L548,566.2 L551.8,568.3 L555.5,570.5 L559.2,572.8 L562.7,575.2 L566.2,577.7 L569.6,580.4 L573,583.1 L576.2,586 L579.4,588.9 L582.4,592 L585.4,595.1 L588.2,598.3 L591,601.6 L593.6,605 L596.2,608.5 L598.6,612.1 L600.9,615.7 M461.2,558.2 L465.1,557.6 L469.1,557.1 L473.1,556.7 L477.1,556.4 L481.1,556.2 L485.1,556.2 L489.2,556.3 L493.2,556.5 L497.2,556.9 L501.2,557.3 L505.1,557.9 L509.1,558.6 L513,559.5 L516.9,560.4 L520.8,561.5 L524.6,562.6 L528.4,563.9 L532.2,565.4 L535.9,566.9 L539.5,568.5 L543.2,570.3 L546.7,572.1 L550.2,574.1 L553.7,576.2 L557,578.4 L560.3,580.7 L563.6,583 L566.7,585.5 L569.8,588.1 L572.8,590.8 L575.7,593.5 L578.5,596.4 L581.3,599.3 L583.9,602.3 L586.5,605.4 L589,608.6 L591.3,611.8 L593.6,615.1" stroke="#1f1f1f" stroke-width="0.75"/><path d="M463.8,558.7 L473.9,615.9 M480.6,556.9 L494.1,615.9 M501.5,556 L501.5,615.9 M521,557.3 L496.3,615.9 M538.3,564.1 L500.1,615.9 M554,575.3 L530,615.9 M567,585.6 L542.8,615.9 M576,592.8 L555.8,615.9 M593.9,615.9 L581.6,601.8" stroke="#1f1f1f" stroke-width="0.75"/><path d="M472.8,518.8 L467.8,447 Q467.4,437.6 479.5,436.7 L620.8,435.8 M475.5,518.8 L471,449.2 Q471,444.7 472.8,443.6 M479.1,518.3 L474.6,447 M490.7,439.8 L623.1,438.5 Q631.1,438.5 631.6,447 L634.7,506.4 Q635.2,512.5 627.6,512.9 L491.8,514.7 Q484,514.7 483.3,507.5 L480.6,449.2 Q480.4,440.2 490.7,439.8 Z M479.5,436.7 Q477.3,442.5 477.7,449.2 L480.6,512 Q481.1,517.9 487.4,518.3 M619.7,436.9 Q620.8,431.3 627.6,429.9 L645.5,426.8 L650.4,515.4 M632.5,438 Q633.2,432.4 637.6,431.3 L642.8,430.4 L647.7,514.3 M635.4,440.2 L639.9,515.4 M638.3,435.8 L643.7,515.4 M640.6,434.6 L645.9,512 Q647.7,518.8 653.4,512 L652.2,509.8 M490.7,436.2 L493.4,513.8 M498.6,436.2 L501.3,513.8 M507.5,436.2 L510.2,513.8 M512,436.2 L514.7,513.8 M524.4,436.2 L527.1,513.8 M527.7,436.2 L530.4,513.8 M542.3,436.2 L545,513.8 M558,436.2 L560.7,513.8 M560.3,436.2 L563,513.8 M572.6,436.2 L575.3,513.8 M577.1,436.2 L579.8,513.8 M588.3,436.2 L591,513.8 M595,436.2 L597.7,513.8 M602.9,436.2 L605.6,513.8 M610.7,436.2 L613.4,513.8 M618.6,436.2 L621.3,513.8 M626.4,436.2 L629.1,513.8 M467.4,464.2 L648.9,463.1 M467.4,469.4 L648.9,468.3 M467.4,481.7 L648.9,480.6 M467.4,485.6 L648.9,484.4 M467.4,495.7 L648.9,494.5 M467.4,501.9 L648.9,500.8 M515.4,506.4 L515.6,513.1 M531.1,506.4 L531.3,513.1 M551.3,506.4 L551.5,513.1 M571.5,506.4 L571.7,513.1 M589.4,506.4 L589.6,513.1 M608.5,506.4 L608.7,513.1 M481.8,512 L517.6,508.7 M616.3,483.3 L636.5,480.6" stroke="#000" stroke-width="0.7"/><path d="M481.8,518.8 L643.3,514.7" stroke="#111" stroke-width="1.4"/><path d="M510.7,508.7 L527.5,508.7 L538.7,517.2 L523,517.6Z" stroke="#333" stroke-width="0.5" fill="#777"/><path d="M585.8,508.7 L603.8,508.7 L615,516.7 L598.2,517.2Z" stroke="#333" stroke-width="0.5" fill="#777"/><path d="M516.3,530.2 L530.9,530.2 L543.2,537.4 L527.5,537.8Z" stroke="#333" stroke-width="0.5" fill="#777"/><path d="M589.2,528 L606,528 L619.5,535.1 L602.7,536.3Z" stroke="#333" stroke-width="0.5" fill="#777"/><path d="M50,824.1 L184.1,827.4 M71.3,820.8 L180.8,823.5" stroke="#333" stroke-width="0.7"/><path d="M82.9,815.8 L77,727.4 Q76.5,715.8 90.9,714.7 L259.4,713.6 M86.1,815.8 L80.7,730.2 Q80.7,724.6 82.9,723.3 M90.4,815.3 L85,727.4 M104.3,718.6 L262,716.9 Q271.7,716.9 272.2,727.4 L275.9,800.6 Q276.5,808.1 267.4,808.6 L105.6,810.8 Q96.3,810.8 95.5,802 L92.2,730.2 Q92,719.1 104.3,718.6 Z M90.9,714.7 Q88.2,721.9 88.8,730.2 L92.2,807.5 Q92.8,814.7 100.3,815.3 M258,715 Q259.4,708.1 267.4,706.4 L288.8,702.6 L294.6,811.7 M273.3,716.4 Q274.1,709.5 279.4,708.1 L285.6,707 L291.4,810.3 M276.7,719.1 L282.1,811.7 M280.2,713.6 L286.6,811.7 M282.9,712.2 L289.3,807.5 Q291.4,815.8 298.1,807.5 L296.8,804.8 M104.3,714.2 L107.5,809.7 M113.6,714.2 L116.8,809.7 M124.3,714.2 L127.5,809.7 M129.7,714.2 L132.9,809.7 M144.4,714.2 L147.6,809.7 M148.4,714.2 L151.6,809.7 M165.8,714.2 L169,809.7 M184.5,714.2 L187.7,809.7 M187.2,714.2 L190.4,809.7 M201.9,714.2 L205.1,809.7 M207.2,714.2 L210.4,809.7 M220.6,714.2 L223.8,809.7 M228.6,714.2 L231.8,809.7 M238,714.2 L241.2,809.7 M247.3,714.2 L250.5,809.7 M256.7,714.2 L259.9,809.7 M266,714.2 L269.2,809.7 M76.5,748.7 L292.8,747.3 M76.5,755 L292.8,753.7 M76.5,770.2 L292.8,768.8 M76.5,774.9 L292.8,773.5 M76.5,787.4 L292.8,786 M76.5,795.1 L292.8,793.7 M133.7,800.6 L134,808.9 M152.4,800.6 L152.7,808.9 M176.5,800.6 L176.7,808.9 M200.5,800.6 L200.8,808.9 M221.9,800.6 L222.2,808.9 M244.6,800.6 L244.9,808.9 M93.6,807.5 L136.4,803.4 M254,772.2 L278.1,768.8" stroke="#000" stroke-width="0.7"/><path d="M93.6,815.8 L286.1,810.8" stroke="#111" stroke-width="1.4"/><ellipse cx="350.9" cy="768.5" rx="27.8" ry="57.2" fill="#b4b4b4"/><path d="M345.4,723.7 Q346,720.1 351.6,720.1 Q357.5,720.1 358.1,723.7 Z" stroke="#333" stroke-width="0.5" fill="#eee"/><path d="M349,724 L354.5,724 L354.2,753.8 L349.3,753.8Z" stroke="#333" stroke-width="0.4" fill="#555"/><circle cx="350.9" cy="765.2" r="6.2" stroke="#333" stroke-width="0.6" fill="#c8c8c8"/><circle cx="350.9" cy="765.2" r="3.6" stroke="#333" stroke-width="0.6" fill="#b4b4b4"/><circle cx="350.9" cy="782.6" r="6.8" stroke="#333" stroke-width="0.6" fill="#c8c8c8"/><circle cx="350.9" cy="782.6" r="4.2" stroke="#333" stroke-width="0.6" fill="#b4b4b4"/><path d="M346.8,800.4 L337.6,809.6 L341.1,814.2 L345.7,813 L349.1,806.1Z" stroke="#222" stroke-width="0.6" fill="#fff"/><path d="M353.7,800.4 L362.9,809.6 L359.5,814.2 L354.9,813 L351.4,806.1Z" stroke="#222" stroke-width="0.6" fill="#fff"/><ellipse cx="350.3" cy="800.4" rx="5.3" ry="3.4" stroke="#222" stroke-width="0.6" fill="#fff"/><ellipse cx="350.3" cy="799.9" rx="2.5" ry="1.5" stroke="#222" stroke-width="0.48" fill="#fff"/><path d="M315.6,784.2 L320.2,792.1 L275.1,813.7 L278,822.5 L249.5,820.8 L264.3,799.6 L268.5,806.5 Z" fill="#0a0a0a"/><path d="M212.1,808.2 L239.8,807.2 L246.5,812.4 L224.9,814.2Z" stroke="#222" stroke-width="0.5" fill="#6a6a6a"/><path d="M210.7,818.1 L243.6,816.9 L240.6,823.6 L223.4,824.7Z" stroke="#222" stroke-width="0.5" fill="#6a6a6a"/><path d="M230.1,810.2 L235.6,810.2 L235.3,847.6 L230.4,847.6Z" stroke="#333" stroke-width="0.4" fill="#8a8a8a"/><path d="M226.7,810.2 Q227.6,806.1 233.2,806.1 Q239.1,806.1 240.1,810.2 Z" stroke="#222" stroke-width="0.5" fill="#f0f0f0"/><ellipse cx="233.1" cy="820.7" rx="9" ry="3.2" stroke="#222" stroke-width="0.5" fill="none"/><ellipse cx="233.1" cy="827.1" rx="8.5" ry="3" stroke="#222" stroke-width="0.5" fill="#ddd"/><path d="M225.6,832.6 L218.1,844.1 L222.6,847.6 L230.1,836.7Z" stroke="#222" stroke-width="0.6" fill="#e4e4e4"/><path d="M239.1,832.6 L248,843.5 L243.6,847.6 L236.5,836.7Z" stroke="#222" stroke-width="0.6" fill="#e4e4e4"/><ellipse cx="233.1" cy="831.9" rx="6" ry="3.6" stroke="#222" stroke-width="0.6" fill="#eee"/><path d="M219.2,868.5 L209.9,844.1 Q205.4,834.9 209.2,832.6 Q215.1,831.1 221.1,840.8 L229.3,852.8 L243.6,871.5 M248,836.4 Q253.3,845.3 263.7,855.8 Q284.7,870.7 302.6,882.7 Q317.6,893.2 323.6,901.4 M235.6,849.8 L253.3,875.2 L261.9,888.7 L271.5,908.1 Q272.7,911.9 269.7,912.9 M224.9,920.4 L215.6,881.2 Q213.2,872.2 221.1,870 Q233.8,867.8 242.8,871.5 Q250.3,873.7 254.8,876.4 M218.6,887.9 Q220.4,881.5 227.9,881.2 L254.8,885.7 L261.9,888.7 M223.1,904.4 Q224.9,897.4 232.3,896.5 L251.8,897.7 Q263.7,903.6 269,909.6 M239.1,909.6 Q245.8,913.4 250.3,914.1 L254.8,920.8 M261.5,908.1 Q265.2,914.1 269.7,912.9 M239.8,920.1 Q244.3,917.1 245.8,911.1 M263.7,882.7 Q277.2,877.5 289.2,876 M271.5,908.1 Q287.7,905.1 298.4,909.9 M224.9,867.8 Q229.3,864.8 233.8,865.5 M248,864.8 Q251.8,864 255.5,861.8 M257.8,873 Q265.2,872.2 271.2,870 M223.4,853.6 Q225.6,852.1 227.1,849.5 M242.8,828.9 Q248.8,831.1 249.5,826.6 M254.8,876 L266.7,896.9 M253.3,878.2 L265.2,897.7" stroke="#111" stroke-width="0.9"/><path d="M470.7,893.9 L465.8,821.2 Q465.3,811.6 477.5,810.7 L618.8,809.8 M473.4,893.9 L468.9,823.4 Q468.9,818.9 470.7,817.7 M477,893.4 L472.5,821.2 M488.7,813.9 L621,812.5 Q629.1,812.5 629.5,821.2 L632.7,881.4 Q633.1,887.5 625.5,888 L489.8,889.8 Q481.9,889.8 481.3,882.5 L478.6,823.4 Q478.4,814.3 488.7,813.9 Z M477.5,810.7 Q475.2,816.6 475.7,823.4 L478.6,887.1 Q479,893 485.3,893.4 M617.7,810.9 Q618.8,805.2 625.5,803.9 L643.5,800.7 L648.4,890.5 M630.4,812.1 Q631.1,806.4 635.6,805.2 L640.8,804.3 L645.7,889.3 M633.4,814.3 L637.8,890.5 M636.3,809.8 L641.7,890.5 M638.5,808.7 L643.9,887.1 Q645.7,893.9 651.3,887.1 L650.2,884.8 M488.7,810.2 L491.4,888.9 M496.5,810.2 L499.2,888.9 M505.5,810.2 L508.2,888.9 M510,810.2 L512.7,888.9 M522.3,810.2 L525,888.9 M525.7,810.2 L528.4,888.9 M540.3,810.2 L543,888.9 M556,810.2 L558.7,888.9 M558.2,810.2 L560.9,888.9 M570.6,810.2 L573.2,888.9 M575,810.2 L577.7,888.9 M586.3,810.2 L588.9,888.9 M593,810.2 L595.7,888.9 M600.8,810.2 L603.5,888.9 M608.7,810.2 L611.4,888.9 M616.5,810.2 L619.2,888.9 M624.4,810.2 L627.1,888.9 M465.3,838.7 L646.8,837.5 M465.3,843.9 L646.8,842.7 M465.3,856.4 L646.8,855.2 M465.3,860.2 L646.8,859.1 M465.3,870.5 L646.8,869.3 M465.3,876.8 L646.8,875.7 M513.4,881.4 L513.6,888.2 M529.1,881.4 L529.3,888.2 M549.2,881.4 L549.5,888.2 M569.4,881.4 L569.7,888.2 M587.4,881.4 L587.6,888.2 M606.4,881.4 L606.7,888.2 M479.7,887.1 L515.6,883.7 M614.3,858 L634.5,855.2" stroke="#000" stroke-width="0.7"/><path d="M479.7,893.9 L641.2,889.8" stroke="#111" stroke-width="1.4"/><path d="M469.2,894.7 L480.4,897.7 L641.9,895.9 Q661,898.1 658.7,892.5 Q656.5,888 649.7,888 M514,899.9 L597,900.8 L598.1,903.7 L610.5,903.7" stroke="#2a2a2a" stroke-width="0.7"/><path d="M507.3,754.5 Q511.8,774.7 508.4,790.4 Q507.3,800.5 520.8,802.8 L574.6,804.3 Q584.7,803.9 582.4,794.9 Q579.1,770.2 565.6,751.2 M514,755 Q517.4,774.7 512.9,787.1 Q511.8,796.7 523,798.3 L572.3,799.8 Q578.6,799.4 577.3,792.7 Q574.6,770.2 558.9,752.3" stroke="#2b2b2b" stroke-width="0.7"/><path d="M472.5,713 L515.1,688.4 L661,687.2 L666.6,755.7 L625.1,783.7 L479.3,779.2Z" stroke="#2b2b2b" stroke-width="0.8" fill="#8b8b8b"/><path d="M472.5,713 L619.5,715.3 L661,687.2 M473.6,718.6 L620.6,720.2 L662.5,692.2 M619.5,715.3 L625.1,783.7 M515.1,688.4 L520.8,711.9 M505.1,719.8 L588,719.8 L588.5,744.4 L506.2,745.6Z" stroke="#2b2b2b" stroke-width="0.8"/><path d="M507.3,754.5 Q510.7,765.8 510,778.8 M514,755 L529.7,780.3 M516.3,765.8 L524.1,779.7 M558.9,752.3 Q572.3,765.8 578,781.9 M565.6,751.2 Q569,752.3 570.1,756.8 L583.6,782.6" stroke="#2b2b2b" stroke-width="0.7"/><path d="M545.9,779.2 L556.2,779.2 L556.2,800.5 L562.3,800.5 L551,819.1 L539.8,800.5 L545.9,800.5Z" fill="#0a0a0a"/><circle cx="57.8" cy="432.9" r="10" fill="#151515"/><text x="57.6" y="439.2" text-anchor="middle" font-family="NanumGothic,Liberation Sans,sans-serif" font-weight="bold" font-size="17.2" fill="#fff" stroke="#fff" stroke-width="0.6">1</text><circle cx="419.1" cy="432.9" r="10" fill="#151515"/><text x="419.1" y="439.6" text-anchor="middle" font-family="Liberation Sans,Arial,sans-serif" font-weight="bold" font-size="18.8" fill="#fff" stroke="#fff" stroke-width="0.2">2</text><circle cx="757.4" cy="432.8" r="10" fill="#151515"/><text x="757.4" y="439.5" text-anchor="middle" font-family="Liberation Sans,Arial,sans-serif" font-weight="bold" font-size="18.8" fill="#fff" stroke="#fff" stroke-width="0.2">3</text><circle cx="57.7" cy="712.3" r="10" fill="#151515"/><text x="57.7" y="719" text-anchor="middle" font-family="Liberation Sans,Arial,sans-serif" font-weight="bold" font-size="18.8" fill="#fff" stroke="#fff" stroke-width="0.2">4</text><circle cx="420.2" cy="712.6" r="10" fill="#151515"/><text x="420.2" y="719.3" text-anchor="middle" font-family="Liberation Sans,Arial,sans-serif" font-weight="bold" font-size="18.8" fill="#fff" stroke="#fff" stroke-width="0.2">5</text><circle cx="757.2" cy="712.6" r="10" fill="#151515"/><text x="757.2" y="719.3" text-anchor="middle" font-family="Liberation Sans,Arial,sans-serif" font-weight="bold" font-size="18.8" fill="#fff" stroke="#fff" stroke-width="0.2">6</text></g>
<g id="21_rear3"><path d="M770.1,455.3 L867.7,439.6 M872.2,438.5 L896.8,435.1 M808.2,451.9 L867.7,442.5 M777.9,505.8 L894.6,485.6 L919.3,477.7 L943.9,440.7 M776.8,529.3 L926,501.3 L931.6,498.6 M777.9,555.1 L939.5,523.7 M782.4,577.5 L795.9,580.9 L946.2,547.3 L957.4,538.3 M791.4,606.7 L952.9,573 M837.4,615.7 L948.4,600 M881.1,615.2 L914.8,610.1 M872.2,438.5 L872.2,441.8 M903.6,458.6 L917,454.2 L928.2,438.5 M776.8,462 L813.8,624.6 M770.1,496.8 L794.8,622.4 M816.1,451.9 L840.8,628 M825.1,449.7 L834,499 M823.9,510.2 L837.4,626.9 M849.7,444.1 L892.3,620.2 M867.7,440.7 L917,620.2 M872.2,441.8 L921.5,617.9 M896.8,435.1 L937.2,620.2 M912.5,436.2 L946.2,611.2 M920.4,436.2 L957.4,604.5 M932.7,438.5 L973.1,604.5 M939.5,441.8 L975.3,588.8 M946.2,445.2 L981,564.1 M774.6,559.6 L784.7,611.2 M776.8,546.1 L788,615.7 M779.1,550.6 L790.3,613.4 M800.4,442.9 L813.8,559.6 M806,444.1 L829.5,624.6 M894.6,541.6 L917,622.4 M800.4,442.9 Q800.4,437.3 807.1,435.1 M806,444.1 Q806,438.5 810.5,435.8 M806,561.8 L803.7,514.7 Q803.7,508 811.6,505.8 L884.5,492.3 Q892.3,492.3 893.5,508 M809.3,559.6 L808.2,519.2 Q808.2,513.6 813.8,512.5 M792.5,564.1 L802.6,569.7 M809.3,561.8 L820.6,552.9 L894.6,538.3 M836.3,586.5 L834,568.6 L838.5,559.6 L848.6,577.5 L856.5,577.5 L856.5,541.6 L864.3,540.5 L882.3,568.6 L890.1,567.4 L891.2,550.6 L895.7,541.6 M914.8,606.7 L921.5,597.7 L939.5,595.5 Q947.3,596.6 948.4,605.6 M865.4,608.9 Q867.7,612.3 872.2,612.3 L908,610.7" stroke="#222" stroke-width="0.7"/><path d="M792.5,476.1 L876.6,467.6 L877.8,473.2 L794.8,487.4Z" stroke="#333" stroke-width="0.6" fill="#7c7c7c"/><path d="M800.4,468.7 L882.9,453 L885.6,464.3 L802.6,480Z" stroke="#333" stroke-width="0.6" fill="#8e8e8e"/><path d="M808.2,472.6 L819.4,471" stroke="#333" stroke-width="3.2"/><path d="M808.2,472.6 L819.4,471" stroke="#9a9a9a" stroke-width="2.2"/><circle cx="819.4" cy="471" r="3.1" stroke="#333" stroke-width="0.6" fill="#fff"/><path d="M817.6,469.2 L821.2,472.8 M817.6,472.8 L821.2,469.2" stroke="#333" stroke-width="0.5"/><path d="M863.2,462.2 L874,460.4" stroke="#333" stroke-width="3.2"/><path d="M863.2,462.2 L874,460.4" stroke="#9a9a9a" stroke-width="2.2"/><circle cx="874" cy="460.4" r="3.1" stroke="#333" stroke-width="0.6" fill="#fff"/><path d="M872.2,458.6 L875.8,462.2 M872.2,462.2 L875.8,458.6" stroke="#333" stroke-width="0.5"/><circle cx="800.8" cy="479.5" r="1.5" stroke="#333" stroke-width="0.5" fill="#fff"/></g>
<g id="22_rear6"><path d="M783.9,875.6 L838.2,894.5 L1022.4,885.7 M783.9,879.8 L840.7,891.5 L1017.3,881.9 M782.7,889.4 L833.1,891.5 M802.9,913.4 L1017.3,905.8 Q1023.6,905.1 1023.6,899" stroke="#141414" stroke-width="0.7"/><path d="M787.7,735 L854.6,745.1 L883.6,743.1 L941.6,740.6 L1022.4,779.7 L1021.1,875.6 Q1019.9,879.3 1014.8,879.8 L853.3,883.9 L840.7,888.4 L830.6,884.9 L781.4,868.7 Q778.1,866.7 778.1,861.7 L777.6,764.5 Q778.1,760.2 783.9,758.7 Z" stroke="#141414" stroke-width="0.7" fill="#8b8b8b"/><path d="M882.3,751.9 L902.5,751.9 L902.5,784.7 L882.3,784.7Z" stroke="#777" stroke-width="0.5" fill="#d6d6d6"/><path d="M790.2,760.2 L794.8,879.3 M802.9,761.3 L806.6,881.9 M812.9,762.3 L819.3,884.4 M825.6,763.3 L828.1,885.7 M780.1,760.7 L832.6,764.5 Q840.7,765.8 840.7,775.9 L840.2,887.4 M853.8,746.1 L852.8,874.3 M878.6,753.2 L878,881.9 M905,784.7 L905.6,879.8 M959.8,803.6 L959.3,878.8 M983.5,801.1 L983.5,878.3 M1006.7,791 L1007.2,879.8 M852.8,874.3 Q853.3,880.6 859.6,881.4 M836.9,806.2 L831.9,799.9 L1022.4,791 M831.9,811.2 L836.9,806.2 L959.3,801.6 L1022.4,797.3 M782.7,804.9 L840.7,811.2 M853.3,832.7 L1020.4,827.6 M853.3,862.2 L1020.4,851.6 M781.4,844 L840.7,856.6 M782.7,868 L787.7,859.7 Q789,857.9 792.8,858.7 L815.5,865.5 Q819.3,866.7 820,870.5 L821.8,881.9 M785.2,869.8 L789.7,862.9 L815.5,869.8 L819.3,883.1 M825.6,884.9 Q826.8,874.3 831.1,874.3 Q836.9,873 840.2,881.9" stroke="#1a1a1a" stroke-width="0.75"/><path d="M889.9,685.6 Q860.9,707.8 845.7,725.4 Q839.4,734.3 842,743.1 L854.6,746.1 Q853.3,763.3 857.1,768.8 Q864.7,773.9 872.2,764.5 Q879.8,750.7 883.6,742.6 L912.6,741.3 Q926.5,730.5 925.2,711.5 L974.9,690.6" stroke="#141414" stroke-width="0.9" fill="#fff"/><path d="M860.9,720.4 Q862.1,738 858.9,746.1 M915.9,702.7 Q922.7,705.2 925.2,711.5 M920.2,697.2 Q927.8,701.4 929.5,709.8 M884.9,741.1 Q903.8,727.9 913.9,709.8 M856.3,760.2 Q859.6,755.7 865.9,757.7 Q869,760.2 867.2,765.8" stroke="#141414" stroke-width="0.7"/><path d="M1022.4,730.5 Q979.5,727.9 951.7,741.8 Q926.5,745.6 906.3,751.9 Q901.3,755.7 904.3,760.7 Q896.2,764.5 896.2,769.6 Q896.2,777.1 906.3,777.9 Q908.8,788.5 916.4,796.1 Q929,803.6 941.6,801.6 Q979.5,798.6 997.1,789 Q1012.3,780.9 1022.9,778.9" stroke="#141414" stroke-width="0.9" fill="#fff"/><path d="M904.3,760.7 Q911.4,762.8 916.4,761.3 M906.3,777.9 Q913.9,780.9 921.4,783.5 L939.1,779.7 M902.5,767.1 Q916.4,764.5 926.5,765.8 M926.5,757 Q941.6,753.2 951.7,743.1 M941.6,791 Q956.8,789 964.3,784.7 M951.7,774.6 Q959.3,773.9 961.8,771.3" stroke="#141414" stroke-width="0.7"/></g>
<g id="50_front"><path d="M117.3,1155.2 Q110.3,1155.2 109.8,1148.8 L101.3,1086.5 Q100.7,1078.7 108.7,1078.7 L233.7,1078.7 Q241.7,1078.7 240.6,1086.5 L230.7,1147.2 Q229.7,1153.6 236.6,1154.7 M115.3,1078.7 L122.1,1155.2 M129.2,1078.7 L134.1,1155.2 M143.2,1078.7 L146.1,1155.2 M157.2,1078.7 L158.1,1155.2 M171.2,1078.7 L170.1,1155.2 M185.2,1078.7 L182.1,1155.2 M199.2,1078.7 L194.2,1155.2 M213.1,1078.7 L206.2,1155.2 M227.1,1078.7 L218.2,1155.2 M96.5,1106.7 L236.6,1105.4 M97,1111 L236.1,1109.4 M106.6,1129.1 L233.1,1127.5 M117.3,1155.2 L230.7,1153.9 M80,1240.4 L58.6,1163.2 Q55.5,1147.2 69.3,1144.5 L279.7,1139.2 Q293.1,1139.2 290.4,1155.2 L277.9,1240.4 M88.4,1144.1 L101.4,1243.1 M107.6,1143.6 L118.8,1243.1 M126.7,1143.1 L136.3,1243.1 M145.8,1142.6 L153.7,1243.1 M165,1142.1 L171.1,1243.1 M184.1,1141.6 L188.6,1243.1 M203.2,1141.2 L206,1243.1 M222.4,1140.7 L223.4,1243.1 M241.5,1140.2 L240.9,1243.1 M260.6,1139.7 L258.3,1243.1 M105.3,1182.4 L96.7,1096.1 Q95.4,1089.1 90.6,1094.5 L56,1147.2 Q53.3,1151.5 54.7,1155.7 L80,1239.9 Q81.6,1244.7 87.4,1243.9 M59.7,1142.1 L83.4,1235.3 M64,1135.7 L86.3,1228.8 M68.3,1129.3 L89.2,1222.2 M72.6,1122.8 L92.1,1215.7 M76.9,1116.4 L95,1209.2 M81.2,1110 L97.9,1202.7 M85.5,1103.6 L100.8,1196.2 M89.8,1097.2 L103.7,1189.7 M64.2,1181.2 L99.1,1123.5 M73,1213.8 L102.9,1155.2 M226.5,1148.5 L236.6,1074 Q237.1,1068.9 242.5,1068.9 L250.4,1068.6 Q253.6,1068.6 256.3,1071.6 L306.4,1121.1 Q309,1124.3 305.3,1129.1 L277.9,1240.4 Q277.1,1244.7 271.8,1243.9 M246.8,1069.1 L231.6,1158.3 M254.5,1070.3 L236.1,1166.8 M260.3,1076.2 L240.7,1175.3 M266.2,1082 L245.2,1183.8 M272,1087.9 L249.8,1192.3 M277.9,1093.8 L254.3,1200.7 M283.8,1099.7 L258.9,1209.2 M289.6,1105.6 L263.4,1217.7 M295.5,1111.5 L268,1226.2 M301.3,1117.3 L272.5,1234.6 M233.9,1099.7 L296.8,1165.6 M230.2,1126.7 L286.5,1206.6 M223.8,1072.6 Q229.7,1075.3 228.6,1083.3 L219,1147.2 Q217.9,1153.1 223.8,1155.2 L234.5,1157.9 M56,1193 L281.1,1189.3 M68.8,1213.8 L279.7,1206.3 M66.6,1204.5 L281.1,1200.5 M76.8,1233 L277.6,1227.7 M74.1,1224.5 L278.4,1220.5 M97.3,1243.1 L117.3,1157.9 M97.3,1243.1 L119.9,1179.2 M142.6,1251.1 L119.9,1179.2 M142.6,1251.1 L127.9,1155.2 M142.6,1251.1 L165.2,1179.2 M178.5,1243.1 L165.2,1155.2 M178.5,1243.1 L189.2,1179.2 M215.8,1243.1 L199.8,1179.2 M215.8,1243.1 L223.8,1155.2 M237.1,1243.1 L223.8,1179.2 M237.1,1243.1 L242.5,1157.9 M261.1,1243.1 L242.5,1179.2 M261.1,1243.1 L274.4,1189.8 M91.9,1243.1 L89.8,1251.1 M115.9,1243.1 L113.8,1251.1 M142.6,1243.1 L140.4,1251.1 M215.8,1243.1 L213.7,1251.1 M235.8,1243.1 L233.7,1251.1 M261.1,1243.1 L259,1251.1" stroke="#111" stroke-width="0.78"/><path d="M80,1243.1 L277.1,1243.1 M105.3,1182.4 L245.1,1176.5 M56,1187.2 L105.3,1182.4" stroke="#111" stroke-width="1.2480000000000002"/><path d="M69.3,1173.8 Q56,1175.2 54.7,1184.5 Q54.7,1189.8 60,1189.8 L69.3,1189.3" stroke="#111" stroke-width="0.78"/><path d="M137.2,1087.3 L149.7,1085.9 Q151.3,1086.5 151.3,1089.1 L154,1128.6 Q155.6,1136.6 151.9,1139.7 L159.1,1216.5 L147.1,1218.6 L143.4,1140.5 Q139.1,1136.6 139.6,1131.2 Z" fill="#3b3b3b"/><circle cx="146.6" cy="1133.9" r="3.2" fill="#fff"/><ellipse cx="149.7" cy="1175.2" rx="2.1" ry="4.3" fill="#fff" transform="rotate(25 149.7 1175.2)"/><circle cx="151.1" cy="1184" r="2.7" fill="#fff"/><ellipse cx="151.9" cy="1197.3" rx="2.1" ry="4.3" fill="#fff" transform="rotate(25 151.9 1197.3)"/><path d="M203,1046 L199.8,1132.6 L210.5,1134.4 L213.1,1093.9 Z" fill="#3b3b3b"/><path d="M199.8,1139.7 L210.5,1139.7 L209.2,1215.7 L198.2,1215.1 Z" fill="#3b3b3b"/><path d="M203.6,1047.3 Q203.6,1042 208.4,1042 L216.3,1042 Q221.7,1042 221.4,1047.3 L220.3,1087.3 Q219,1094.5 213.1,1093.9 Q207.3,1093.4 206.2,1087.3 Z" stroke="#222" stroke-width="0.5" fill="#3b3b3b"/><circle cx="213.7" cy="1085.9" r="3.2" fill="#fff"/><circle cx="206.5" cy="1104.1" r="2.9" fill="#fff"/><circle cx="206.5" cy="1114.7" r="2.9" fill="#fff"/><circle cx="206.5" cy="1124" r="2.9" fill="#fff"/><circle cx="205.2" cy="1168" r="2.9" fill="#fff"/><circle cx="205.2" cy="1177.3" r="2.9" fill="#fff"/><circle cx="205.2" cy="1186.6" r="2.9" fill="#fff"/><path d="M175.1,1075.3 L175.1,1056.6 L168.7,1056.6 L178.5,1040.7 L188.6,1056.6 L183.3,1056.6 L183.3,1075.3 Z" fill="#0a0a0a"/><path d="M175.1,1096.6 L183.3,1096.6 L183.3,1115.2 L188.6,1115.2 L178.5,1131.8 L168.7,1115.2 L175.1,1115.2 Z" fill="#0a0a0a"/><path d="M594.8,1138.1 Q587.9,1138.1 587.3,1131.7 L578.8,1069.4 Q578.3,1061.6 586.3,1061.6 L711.2,1061.6 Q719.2,1061.6 718.1,1069.4 L708.3,1130.1 Q707.2,1136.5 714.1,1137.6 M592.8,1061.6 L599.6,1138.1 M606.8,1061.6 L611.6,1138.1 M620.8,1061.6 L623.6,1138.1 M634.7,1061.6 L635.6,1138.1 M648.7,1061.6 L647.7,1138.1 M662.7,1061.6 L659.7,1138.1 M676.7,1061.6 L671.7,1138.1 M690.7,1061.6 L683.7,1138.1 M704.7,1061.6 L695.7,1138.1 M574,1089.6 L714.1,1088.3 M574.5,1093.9 L713.6,1092.3 M584.1,1112 L710.7,1110.4 M594.8,1138.1 L708.3,1136.8 M557.5,1223.3 L536.2,1146.1 Q533,1130.1 546.8,1127.4 L757.3,1122.1 Q770.6,1122.1 767.9,1138.1 L755.4,1223.3 M566,1127 L578.9,1226 M585.1,1126.5 L596.4,1226 M604.2,1126 L613.8,1226 M623.4,1125.5 L631.2,1226 M642.5,1125 L648.7,1226 M661.6,1124.5 L666.1,1226 M680.8,1124 L683.5,1226 M699.9,1123.6 L701,1226 M719,1123.1 L718.4,1226 M738.1,1122.6 L735.8,1226 M582.8,1165.3 L574.3,1079 Q572.9,1072 568.1,1077.4 L533.5,1130.1 Q530.9,1134.4 532.2,1138.6 L557.5,1222.8 Q559.1,1227.6 564.9,1226.8 M537.3,1125 L560.9,1218.2 M541.6,1118.6 L563.8,1211.6 M545.9,1112.2 L566.7,1205.1 M550.1,1105.7 L569.6,1198.6 M554.4,1099.3 L572.5,1192.1 M558.7,1092.9 L575.4,1185.6 M563,1086.5 L578.3,1179.1 M567.3,1080 L581.2,1172.6 M541.7,1164.1 L576.7,1106.4 M550.5,1196.7 L580.4,1138.1 M704,1131.4 L714.1,1056.8 Q714.7,1051.8 720,1051.8 L728,1051.5 Q731.2,1051.5 733.8,1054.4 L783.9,1104 Q786.6,1107.2 782.8,1112 L755.4,1223.3 Q754.6,1227.6 749.3,1226.8 M724.3,1052 L709.1,1141.2 M732,1053.2 L713.6,1149.7 M737.9,1059 L718.2,1158.2 M743.7,1064.9 L722.7,1166.7 M749.6,1070.8 L727.3,1175.1 M755.4,1076.7 L731.8,1183.6 M761.3,1082.6 L736.4,1192.1 M767.1,1088.5 L741,1200.6 M773,1094.4 L745.5,1209 M778.9,1100.2 L750.1,1217.5 M711.5,1082.5 L774.4,1148.5 M707.7,1109.6 L764,1189.5 M701.3,1055.5 Q707.2,1058.2 706.1,1066.2 L696.5,1130.1 Q695.5,1136 701.3,1138.1 L712,1140.8 M533.5,1175.9 L758.6,1172.2 M546.3,1196.7 L757.3,1189.2 M544.2,1187.4 L758.6,1183.4 M554.3,1215.9 L755.1,1210.5 M551.6,1207.3 L755.9,1203.4 M574.8,1226 L594.8,1140.8 M574.8,1226 L597.4,1162.1 M620.1,1234 L597.4,1162.1 M620.1,1234 L605.4,1138.1 M620.1,1234 L642.7,1162.1 M656.1,1226 L642.7,1138.1 M656.1,1226 L666.7,1162.1 M693.3,1226 L677.4,1162.1 M693.3,1226 L701.3,1138.1 M714.7,1226 L701.3,1162.1 M714.7,1226 L720,1140.8 M738.6,1226 L720,1162.1 M738.6,1226 L751.9,1172.7 M569.5,1226 L567.3,1234 M593.5,1226 L591.3,1234 M620.1,1226 L618,1234 M693.3,1226 L691.2,1234 M713.3,1226 L711.2,1234 M738.6,1226 L736.5,1234" stroke="#111" stroke-width="0.78"/><path d="M557.5,1226 L754.6,1226 M582.8,1165.3 L722.6,1159.4 M533.5,1170.1 L582.8,1165.3" stroke="#111" stroke-width="1.2480000000000002"/><path d="M546.8,1156.7 Q533.5,1158.1 532.2,1167.4 Q532.2,1172.7 537.5,1172.7 L546.8,1172.2" stroke="#111" stroke-width="0.78"/><path d="M615,1071 L627.8,1069.6 Q629.7,1069.9 629.9,1072.8 L632.1,1112.3 Q633.1,1119.7 629.9,1122.4 L636.3,1200.2 L625.2,1202.3 L620.9,1122.9 Q616.6,1119.2 617.2,1112.8 Z" fill="#3b3b3b"/><path d="M681.6,1072.8 Q681.6,1071.2 683.8,1071.2 L696,1070.7 Q698.1,1070.7 698.1,1073.4 L698.1,1112.3 Q697.6,1119.7 690.7,1121.8 L686.4,1198.8 L675.8,1198 L680,1120.2 Q681.1,1114.9 681.6,1109.6 Z" fill="#3b3b3b"/><circle cx="624.1" cy="1117" r="3.2" fill="#fff"/><circle cx="691.5" cy="1114.4" r="3.2" fill="#fff"/><circle cx="628.9" cy="1167.4" r="2.7" fill="#fff"/><circle cx="682.2" cy="1169" r="2.7" fill="#fff"/><ellipse cx="625.4" cy="1151.7" rx="1.6" ry="3.2" stroke="#222" stroke-width="0.5" fill="#f2f2f2" transform="rotate(-35 625.4 1151.7)"/><ellipse cx="631.3" cy="1151.7" rx="1.6" ry="3.2" stroke="#222" stroke-width="0.5" fill="#f2f2f2" transform="rotate(35 631.3 1151.7)"/><ellipse cx="628.3" cy="1155.7" rx="2.7" ry="4.8" stroke="#222" stroke-width="0.6" fill="#fff"/><ellipse cx="628.3" cy="1152.7" rx="1.9" ry="1.3" stroke="#222" stroke-width="0.5" fill="#ddd"/><ellipse cx="626" cy="1177.8" rx="1.6" ry="3.2" stroke="#222" stroke-width="0.5" fill="#f2f2f2" transform="rotate(-35 626 1177.8)"/><ellipse cx="631.8" cy="1177.8" rx="1.6" ry="3.2" stroke="#222" stroke-width="0.5" fill="#f2f2f2" transform="rotate(35 631.8 1177.8)"/><ellipse cx="628.9" cy="1181.8" rx="2.7" ry="4.8" stroke="#222" stroke-width="0.6" fill="#fff"/><ellipse cx="628.9" cy="1178.8" rx="1.9" ry="1.3" stroke="#222" stroke-width="0.5" fill="#ddd"/><ellipse cx="679.2" cy="1153" rx="1.6" ry="3.2" stroke="#222" stroke-width="0.5" fill="#f2f2f2" transform="rotate(-35 679.2 1153)"/><ellipse cx="685.1" cy="1153" rx="1.6" ry="3.2" stroke="#222" stroke-width="0.5" fill="#f2f2f2" transform="rotate(35 685.1 1153)"/><ellipse cx="682.2" cy="1157" rx="2.7" ry="4.8" stroke="#222" stroke-width="0.6" fill="#fff"/><ellipse cx="682.2" cy="1154.1" rx="1.9" ry="1.3" stroke="#222" stroke-width="0.5" fill="#ddd"/><ellipse cx="677.9" cy="1179.6" rx="1.6" ry="3.2" stroke="#222" stroke-width="0.5" fill="#f2f2f2" transform="rotate(-35 677.9 1179.6)"/><ellipse cx="683.8" cy="1179.6" rx="1.6" ry="3.2" stroke="#222" stroke-width="0.5" fill="#f2f2f2" transform="rotate(35 683.8 1179.6)"/><ellipse cx="680.8" cy="1183.6" rx="2.7" ry="4.8" stroke="#222" stroke-width="0.6" fill="#fff"/><ellipse cx="680.8" cy="1180.7" rx="1.9" ry="1.3" stroke="#222" stroke-width="0.5" fill="#ddd"/><path d="M319.9,1372.8 Q313,1372.8 312.5,1366.4 L303.9,1304.1 Q303.4,1296.4 311.4,1296.4 L436.3,1296.4 Q444.3,1296.4 443.2,1304.1 L433.4,1364.8 Q432.3,1371.2 439.3,1372.3 M317.9,1296.4 L324.7,1372.8 M331.9,1296.4 L336.8,1372.8 M345.9,1296.4 L348.8,1372.8 M359.9,1296.4 L360.8,1372.8 M373.9,1296.4 L372.8,1372.8 M387.8,1296.4 L384.8,1372.8 M401.8,1296.4 L396.8,1372.8 M415.8,1296.4 L408.8,1372.8 M429.8,1296.4 L420.8,1372.8 M299.1,1324.3 L439.3,1323 M299.7,1328.6 L438.7,1327 M309.3,1346.7 L435.8,1345.1 M319.9,1372.8 L433.4,1371.5 M282.6,1458.1 L261.3,1380.8 Q258.1,1364.8 272,1362.2 L482.4,1356.8 Q495.7,1356.8 493.1,1372.8 L480.5,1458.1 M291.1,1361.7 L304.1,1460.7 M310.2,1361.2 L321.5,1460.7 M329.4,1360.7 L338.9,1460.7 M348.5,1360.2 L356.4,1460.7 M367.6,1359.7 L373.8,1460.7 M386.8,1359.3 L391.2,1460.7 M405.9,1358.8 L408.7,1460.7 M425,1358.3 L426.1,1460.7 M444.1,1357.8 L443.5,1460.7 M463.3,1357.3 L461,1460.7 M307.9,1400 L299.4,1313.7 Q298.1,1306.8 293.3,1312.1 L258.6,1364.8 Q256,1369.1 257.3,1373.4 L282.6,1457.5 Q284.2,1462.3 290.1,1461.5 M262.4,1359.7 L286.1,1452.9 M266.7,1353.3 L289,1446.4 M271,1346.9 L291.9,1439.9 M275.3,1340.5 L294.8,1433.4 M279.6,1334.1 L297.7,1426.8 M283.9,1327.6 L300.6,1420.3 M288.2,1321.2 L303.5,1413.8 M292.4,1314.8 L306.4,1407.3 M266.9,1398.8 L301.8,1341.1 M275.6,1431.4 L305.5,1372.8 M429.1,1366.2 L439.3,1291.6 Q439.8,1286.5 445.1,1286.5 L453.1,1286.2 Q456.3,1286.2 459,1289.2 L509,1338.7 Q511.7,1341.9 508,1346.7 L480.5,1458.1 Q479.7,1462.3 474.4,1461.5 M449.4,1286.7 L434.2,1376 M457.1,1287.9 L438.8,1384.4 M463,1293.8 L443.3,1392.9 M468.9,1299.7 L447.9,1401.4 M474.7,1305.5 L452.4,1409.9 M480.6,1311.4 L457,1418.4 M486.4,1317.3 L461.5,1426.8 M492.3,1323.2 L466.1,1435.3 M498.1,1329.1 L470.6,1443.8 M504,1335 L475.2,1452.3 M436.6,1317.3 L499.5,1383.2 M432.9,1344.3 L489.1,1424.2 M426.5,1290.2 Q432.3,1292.9 431.3,1300.9 L421.7,1364.8 Q420.6,1370.7 426.5,1372.8 L437.1,1375.5 M258.6,1410.6 L483.7,1406.9 M271.4,1431.4 L482.4,1424 M269.3,1422.1 L483.7,1418.1 M279.4,1450.6 L480.3,1445.3 M276.8,1442.1 L481.1,1438.1 M299.9,1460.7 L319.9,1375.5 M299.9,1460.7 L322.6,1396.8 M345.2,1468.7 L322.6,1396.8 M345.2,1468.7 L330.6,1372.8 M345.2,1468.7 L367.9,1396.8 M381.2,1460.7 L367.9,1372.8 M381.2,1460.7 L391.8,1396.8 M418.5,1460.7 L402.5,1396.8 M418.5,1460.7 L426.5,1372.8 M439.8,1460.7 L426.5,1396.8 M439.8,1460.7 L445.1,1375.5 M463.8,1460.7 L445.1,1396.8 M463.8,1460.7 L477.1,1407.5 M294.6,1460.7 L292.5,1468.7 M318.6,1460.7 L316.5,1468.7 M345.2,1460.7 L343.1,1468.7 M418.5,1460.7 L416.3,1468.7 M438.5,1460.7 L436.3,1468.7 M463.8,1460.7 L461.6,1468.7" stroke="#111" stroke-width="0.78"/><path d="M282.6,1460.7 L479.7,1460.7 M307.9,1400 L447.8,1394.1 M258.6,1404.8 L307.9,1400" stroke="#111" stroke-width="1.2480000000000002"/><path d="M272,1391.5 Q258.6,1392.8 257.3,1402.1 Q257.3,1407.5 262.6,1407.5 L272,1406.9" stroke="#111" stroke-width="0.78"/><path d="M340.2,1304.1 L352.9,1302.8 Q354.8,1303 355.1,1306 L357.2,1345.4 Q358.3,1352.8 355.1,1355.5 L361.5,1433.3 L350.3,1435.4 L346,1356 Q341.8,1352.3 342.3,1345.9 Z" fill="#3b3b3b"/><path d="M406.8,1306 Q406.8,1304.4 408.9,1304.4 L421.1,1303.8 Q423.3,1303.8 423.3,1306.5 L423.3,1345.4 Q422.7,1352.8 415.8,1355 L411.6,1432 L400.9,1431.2 L405.2,1353.4 Q406.2,1348.1 406.8,1342.7 Z" fill="#3b3b3b"/><path d="M339.1,1305.4 Q339.1,1301.2 343.4,1301.2 L351.3,1300.6 Q355.6,1300.6 355.9,1304.9 L357.7,1343.3 L342.3,1345.4 Z" fill="#6e6e6e"/><path d="M405.7,1306.5 Q405.7,1302.2 410.5,1302.2 L419.5,1301.7 Q424.3,1301.7 424.3,1306 L424.3,1340.1 Q417.9,1344.1 407.8,1341.7 Z" fill="#6e6e6e"/><circle cx="349.2" cy="1350.2" r="3.2" fill="#fff"/><circle cx="416.6" cy="1347.5" r="3.2" fill="#fff"/><circle cx="354" cy="1400.5" r="2.7" fill="#fff"/><circle cx="407.3" cy="1402.1" r="2.7" fill="#fff"/><ellipse cx="350.5" cy="1384.8" rx="1.6" ry="3.2" stroke="#222" stroke-width="0.5" fill="#f2f2f2" transform="rotate(-35 350.5 1384.8)"/><ellipse cx="356.4" cy="1384.8" rx="1.6" ry="3.2" stroke="#222" stroke-width="0.5" fill="#f2f2f2" transform="rotate(35 356.4 1384.8)"/><ellipse cx="353.5" cy="1388.8" rx="2.7" ry="4.8" stroke="#222" stroke-width="0.6" fill="#fff"/><ellipse cx="353.5" cy="1385.9" rx="1.9" ry="1.3" stroke="#222" stroke-width="0.5" fill="#ddd"/><ellipse cx="351.1" cy="1410.9" rx="1.6" ry="3.2" stroke="#222" stroke-width="0.5" fill="#f2f2f2" transform="rotate(-35 351.1 1410.9)"/><ellipse cx="356.9" cy="1410.9" rx="1.6" ry="3.2" stroke="#222" stroke-width="0.5" fill="#f2f2f2" transform="rotate(35 356.9 1410.9)"/><ellipse cx="354" cy="1414.9" rx="2.7" ry="4.8" stroke="#222" stroke-width="0.6" fill="#fff"/><ellipse cx="354" cy="1412" rx="1.9" ry="1.3" stroke="#222" stroke-width="0.5" fill="#ddd"/><ellipse cx="404.4" cy="1386.1" rx="1.6" ry="3.2" stroke="#222" stroke-width="0.5" fill="#f2f2f2" transform="rotate(-35 404.4 1386.1)"/><ellipse cx="410.2" cy="1386.1" rx="1.6" ry="3.2" stroke="#222" stroke-width="0.5" fill="#f2f2f2" transform="rotate(35 410.2 1386.1)"/><ellipse cx="407.3" cy="1390.1" rx="2.7" ry="4.8" stroke="#222" stroke-width="0.6" fill="#fff"/><ellipse cx="407.3" cy="1387.2" rx="1.9" ry="1.3" stroke="#222" stroke-width="0.5" fill="#ddd"/><ellipse cx="403" cy="1412.8" rx="1.6" ry="3.2" stroke="#222" stroke-width="0.5" fill="#f2f2f2" transform="rotate(-35 403 1412.8)"/><ellipse cx="408.9" cy="1412.8" rx="1.6" ry="3.2" stroke="#222" stroke-width="0.5" fill="#f2f2f2" transform="rotate(35 408.9 1412.8)"/><ellipse cx="406" cy="1416.8" rx="2.7" ry="4.8" stroke="#222" stroke-width="0.6" fill="#fff"/><ellipse cx="406" cy="1413.8" rx="1.9" ry="1.3" stroke="#222" stroke-width="0.5" fill="#ddd"/><circle cx="75" cy="1057.5" r="10" fill="#151515"/><text x="74.8" y="1063.8" text-anchor="middle" font-family="NanumGothic,Liberation Sans,sans-serif" font-weight="bold" font-size="17.2" fill="#fff" stroke="#fff" stroke-width="0.6">1</text><circle cx="785.7" cy="1054.2" r="10" fill="#151515"/><text x="785.7" y="1060.9" text-anchor="middle" font-family="Liberation Sans,Arial,sans-serif" font-weight="bold" font-size="18.8" fill="#fff" stroke="#fff" stroke-width="0.2">2</text><circle cx="256" cy="1303.2" r="10" fill="#151515"/><text x="256" y="1309.9" text-anchor="middle" font-family="Liberation Sans,Arial,sans-serif" font-weight="bold" font-size="18.8" fill="#fff" stroke="#fff" stroke-width="0.2">3</text><circle cx="775.8" cy="1265" r="10" fill="#151515"/><text x="775.8" y="1271.7" text-anchor="middle" font-family="Liberation Sans,Arial,sans-serif" font-weight="bold" font-size="18.8" fill="#fff" stroke="#fff" stroke-width="0.2">4</text></g>
<g id="55_front4"><path d="M804.9,1237.2 Q796.9,1242 801,1248.4 L812.8,1262.7 L986,1300.2 Q990.8,1300.8 997.1,1297.6 L1022.5,1283.3 Q1030.5,1277 1024.1,1269.7 Q1020.9,1265.8 1013,1263.3 L833.5,1229.6 Q827.1,1228.3 820.7,1230.9 Z M809.6,1240.4 Q805.5,1243 808,1246.8 L818.2,1259.5 L986,1295.1 Q989.8,1295.7 993.9,1293.8 L1017.8,1280.1 Q1022.5,1276 1017.8,1272.2 L1013,1269 L833.5,1234.7 Q828.7,1234.1 823.9,1234.7 Z M873.2,1244.2 L919.3,1252.5 L911.3,1256.3 L865.2,1247.4Z M922.4,1253.8 L976.5,1262.7 L970.1,1266.5 L916.1,1256.9Z M841.4,1257.9 L881.1,1265.8 L873.2,1271.6 L833.5,1262.7Z M890.7,1268.4 L941.5,1277.9 L933.6,1283.3 L882.7,1273.8Z M951,1280.1 L995.5,1288.7 L987.6,1294.4 L943.1,1285.5Z M982.8,1265.8 L1014.6,1271.6 L1017.8,1275.4 L1009.8,1278.6 L979.6,1272.2 L978,1268.4Z M771.5,1238.8 L802.3,1246.8 M800.1,1262 L818.2,1266.8 M937.7,1291.3 L919.3,1358 M944,1290.6 L922.4,1351.6 M930.4,1289.7 L922.4,1319.9" stroke="#1a1a1a" stroke-width="1.0"/><path d="M805.9,1296.8 L828.7,1362.9 M825.7,1301.1 L844.8,1368.8 M845.6,1305.3 L860.8,1374.7 M865.5,1309.6 L876.8,1380.6 M885.4,1313.8 L892.9,1386.5 M905.2,1318 L908.9,1392.4 M925.1,1322.3 L924.9,1398.3 M945,1326.5 L940.9,1404.2 M964.8,1330.8 L957,1410.1 M797.5,1340.3 L971.3,1390 M792,1318 L979,1362 M799,1344 L972,1394 M812.9,1364.1 L785.7,1299.6 Q784.6,1294.6 789.1,1291.8 L795.3,1289 Q798.9,1287.8 803.1,1289 L981.1,1331.9 Q985.9,1333.3 984.2,1338.3 L974.1,1350.1 L968.5,1420.2 M730.5,1342.8 L762.9,1404.2 M746,1333.6 L775.3,1392.4 M761.5,1324.4 L787.8,1380.6 M777,1315.2 L800.2,1368.8 M723.9,1368 L797.5,1318.8 M732.7,1384 L802.6,1331.5 M741.5,1400 L807.7,1344.2 M750.4,1416 L716,1360 Q712,1350 722,1344 L786,1306.5 Q795,1302 798,1311 L812.7,1357 M749,1414 L724,1362 Q722,1352 732,1354 M719,1373 L793,1330.5 M742.1,1360.2 L766.5,1423.2 M760.6,1367.4 L782.6,1430.4 M779.2,1374.7 L798.8,1437.7 M797.7,1381.9 L814.9,1444.9 M816.3,1389.1 L831,1452.1 M834.8,1396.3 L847.1,1459.3 M853.4,1403.6 L863.3,1466.6 M871.9,1410.8 L879.4,1473.8 M732.5,1374 L892.2,1439 M741.4,1395 L893.8,1460 M750.4,1416 L895.5,1481 M895.5,1478 L893,1428 Q892,1419 884,1416 M870,1472 L868,1412 M921.5,1430.2 L920.2,1468 M936,1414.4 L933.4,1455 M950.6,1398.6 L946.6,1442 M965.1,1382.8 L959.8,1429 M907,1457.7 L977.4,1383.3 M907,1469.3 L975.2,1399.7 M907,1446 L979.6,1367 L973,1416 L907,1481Z M973,1416 L964,1424 L960,1419 M828.7,1362.9 L765.4,1422.5 M844.8,1368.8 L780.3,1429 M860.8,1374.7 L795.3,1435.5 M876.8,1380.6 L810.2,1442 M892.9,1386.5 L825.2,1448.5 M908.9,1392.4 L840.2,1455 M924.9,1398.3 L855.1,1461.5 M940.9,1404.2 L870.1,1468 M957,1410.1 L885,1474.5 M797.1,1371.8 L954.8,1432.2 M781.5,1386.5 L936.5,1448.5 M766,1401.2 L918.2,1464.8 M895.5,1481 L907,1481" stroke="#111" stroke-width="0.8"/><path d="M742,1360 L890.5,1418" stroke="#111" stroke-width="1.3"/><path d="M853.2,1283.3 Q851.9,1269 858.9,1265.2 L870,1264.6 Q875.4,1265.8 874.1,1273.8 L873.2,1278.6 L866.8,1280.1 L865.9,1288.1 Z" fill="#a9a9a9"/><path d="M898.9,1294.4 Q897.6,1278.6 906.5,1274.7 L920.8,1275.4 Q926.2,1277.9 925,1286.5 L922.4,1293.8 L913.5,1292.9 L912.3,1298.3 Z" fill="#a9a9a9"/><path d="M854.1,1286.5 L865.2,1286.5 L869,1353.9 L860.5,1353.2 Z" fill="#2e2e2e"/><path d="M900.8,1296 L911.6,1296.3 L909.7,1367.5 L899.6,1364.3 Z" fill="#2e2e2e"/><circle cx="858.9" cy="1291.3" r="1.3" fill="#ddd"/><circle cx="861.4" cy="1318.9" r="1" fill="#ddd"/><circle cx="862.7" cy="1331.9" r="1.6" fill="#ddd"/><circle cx="863.6" cy="1343.7" r="1" fill="#ddd"/><circle cx="905.6" cy="1301.4" r="1.3" fill="#ddd"/><circle cx="905.9" cy="1323.7" r="1" fill="#ddd"/><circle cx="905.6" cy="1338.3" r="1.6" fill="#ddd"/><circle cx="905" cy="1353.9" r="1" fill="#ddd"/><path d="M865.2,1288.7 L873.2,1284.9 M911.3,1299.2 L919.3,1296" stroke="#555" stroke-width="1.6"/></g>
</svg>
</div></body></html>
